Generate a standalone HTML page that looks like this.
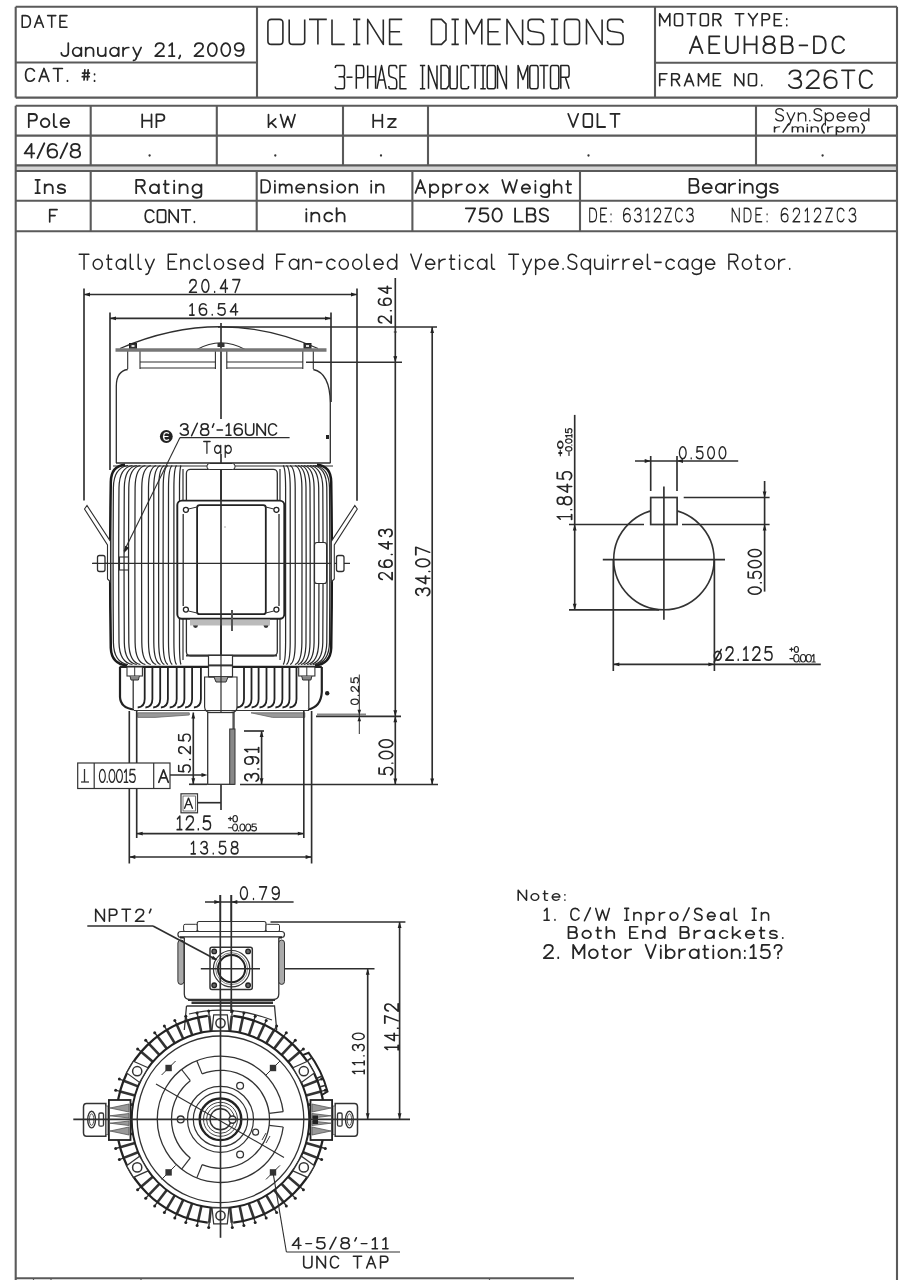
<!DOCTYPE html>
<html><head><meta charset="utf-8"><style>
html,body{margin:0;padding:0;background:#fff;}
svg{display:block;}
text{font-family:"Liberation Sans",sans-serif;stroke:#fff;stroke-width:0.55px;paint-order:normal;}
</style></head><body>
<svg width="908" height="1280" viewBox="0 0 908 1280">
<rect width="908" height="1280" fill="#fff"/>
<line x1="15.7" y1="6.8" x2="897" y2="6.8" stroke="#5a5a5a" stroke-width="2.1"/>
<line x1="15.7" y1="97.6" x2="897" y2="97.6" stroke="#5a5a5a" stroke-width="2.1"/>
<line x1="15.7" y1="6.8" x2="15.7" y2="97.6" stroke="#5a5a5a" stroke-width="2.1"/>
<line x1="897" y1="6.8" x2="897" y2="97.6" stroke="#5a5a5a" stroke-width="2.1"/>
<line x1="257" y1="6.8" x2="257" y2="97.6" stroke="#5a5a5a" stroke-width="2.1"/>
<line x1="655" y1="6.8" x2="655" y2="97.6" stroke="#5a5a5a" stroke-width="2.1"/>
<line x1="15.7" y1="62.5" x2="257" y2="62.5" stroke="#5a5a5a" stroke-width="2.1"/>
<line x1="655" y1="62.8" x2="897" y2="62.8" stroke="#5a5a5a" stroke-width="2.1"/>
<line x1="15.7" y1="105.7" x2="897" y2="105.7" stroke="#5a5a5a" stroke-width="2.1"/>
<line x1="15.7" y1="135.6" x2="897" y2="135.6" stroke="#5a5a5a" stroke-width="2.1"/>
<rect x="15.7" y="165.4" width="881.3" height="5.6" rx="0" stroke="#ccc" stroke-width="0" fill="#d4d4d4"/>
<line x1="15.7" y1="165.4" x2="897" y2="165.4" stroke="#5a5a5a" stroke-width="2.1"/>
<line x1="15.7" y1="171" x2="897" y2="171" stroke="#5a5a5a" stroke-width="2.1"/>
<line x1="15.7" y1="200.7" x2="897" y2="200.7" stroke="#5a5a5a" stroke-width="2.1"/>
<line x1="15.7" y1="231.2" x2="897" y2="231.2" stroke="#5a5a5a" stroke-width="2.1"/>
<line x1="90.7" y1="105.7" x2="90.7" y2="165.4" stroke="#5a5a5a" stroke-width="2.1"/>
<line x1="216.8" y1="105.7" x2="216.8" y2="165.4" stroke="#5a5a5a" stroke-width="2.1"/>
<line x1="343" y1="105.7" x2="343" y2="165.4" stroke="#5a5a5a" stroke-width="2.1"/>
<line x1="428" y1="105.7" x2="428" y2="165.4" stroke="#5a5a5a" stroke-width="2.1"/>
<line x1="756" y1="105.7" x2="756" y2="165.4" stroke="#5a5a5a" stroke-width="2.1"/>
<line x1="90.7" y1="171" x2="90.7" y2="231.2" stroke="#5a5a5a" stroke-width="2.1"/>
<line x1="256.7" y1="171" x2="256.7" y2="231.2" stroke="#5a5a5a" stroke-width="2.1"/>
<line x1="412.4" y1="171" x2="412.4" y2="231.2" stroke="#5a5a5a" stroke-width="2.1"/>
<line x1="580" y1="171" x2="580" y2="231.2" stroke="#5a5a5a" stroke-width="2.1"/>
<line x1="15.7" y1="105.7" x2="15.7" y2="1280" stroke="#5a5a5a" stroke-width="2.1"/>
<line x1="897" y1="105.7" x2="897" y2="1280" stroke="#5a5a5a" stroke-width="2.1"/>
<line x1="15.7" y1="1278.2" x2="574" y2="1278.2" stroke="#5a5a5a" stroke-width="2.1"/>
<line x1="33.5" y1="1278.2" x2="33.5" y2="1280" stroke="#5a5a5a" stroke-width="1.2"/>
<line x1="51" y1="1278.2" x2="51" y2="1280" stroke="#5a5a5a" stroke-width="1.2"/>
<line x1="141" y1="1278.2" x2="141" y2="1280" stroke="#5a5a5a" stroke-width="1.2"/>
<line x1="489.5" y1="1278.2" x2="489.5" y2="1280" stroke="#5a5a5a" stroke-width="1.2"/>
<g transform="translate(22.2,15.6) scale(1.1685)" fill="none" stroke="#262626" stroke-width="1.345" stroke-linecap="round" stroke-linejoin="round"><path transform="translate(0.00,0)" d="M0,0 L0,10 L3,10 Q7,10 7,5 Q7,0 3,0 Z"/><path transform="translate(10.58,0)" d="M0,10 L3.8,0 L7.6,10 M1.4,6.4 L6.2,6.4"/><path transform="translate(21.75,0)" d="M0,0 L7,0 M3.5,0 L3.5,10"/><path transform="translate(32.33,0)" d="M6,0 L0,0 L0,10 L6,10 M0,4.8 L4.4,4.8"/></g>
<g transform="translate(61.3,43.1) scale(1.2934)" fill="none" stroke="#262626" stroke-width="1.345" stroke-linecap="round" stroke-linejoin="round"><path transform="translate(0.00,0)" d="M5.4,0 L5.4,7.2 Q5.4,10 2.7,10 Q0,10 0,7.5"/><path transform="translate(8.79,0)" d="M3.3,3.4 A3.3,3.3 0 1 1 3.3,10 A3.3,3.3 0 1 1 3.3,3.4 Z M6.699999999999999,3.4 L6.699999999999999,10"/><path transform="translate(18.88,0)" d="M0,3.4 L0,10 M0,5.6 Q1,3.4 3.2,3.4 Q6,3.4 6,6.199999999999999 L6,10"/><path transform="translate(28.27,0)" d="M0,3.4 L0,7.2 Q0,10 3,10 Q6,10 6,7.2 M6,3.4 L6,10"/><path transform="translate(37.66,0)" d="M3.3,3.4 A3.3,3.3 0 1 1 3.3,10 A3.3,3.3 0 1 1 3.3,3.4 Z M6.699999999999999,3.4 L6.699999999999999,10"/><path transform="translate(47.75,0)" d="M0,3.4 L0,10 M0,6.199999999999999 Q0.8,3.4 4.4,3.4"/><path transform="translate(55.54,0)" d="M0,3.4 L3.1,10 M6.2,3.4 L3.1,10 L2,12.6 Q1.5,13.4 0.3,13.4"/><path transform="translate(72.52,0)" d="M 0.35,2.60 Q 0.70,0.00 3.50,0.00 Q 6.77,0.00 6.77,2.60 Q 6.77,4.30 4.43,6.00 L 0.00,10.00 L 7.00,10.00"/><path transform="translate(82.91,0)" d="M0.6,2 L2.8,0 L2.8,10 M0.3,10 L4.6,10"/><path transform="translate(90.90,0)" d="M1,9.4 L1,10 L0.1,11.8"/><path transform="translate(102.88,0)" d="M 0.35,2.60 Q 0.70,0.00 3.50,0.00 Q 6.77,0.00 6.77,2.60 Q 6.77,4.30 4.43,6.00 L 0.00,10.00 L 7.00,10.00"/><path transform="translate(113.27,0)" d="M 3.50,0.00 A 3.50,5 0 0 1 3.50,10 A 3.50,5 0 0 1 3.50,0 Z"/><path transform="translate(123.66,0)" d="M 3.50,0.00 A 3.50,5 0 0 1 3.50,10 A 3.50,5 0 0 1 3.50,0 Z"/><path transform="translate(134.05,0)" d="M 6.88,3.80 Q 5.95,6.00 3.50,6.00 Q 0.00,6.00 0.00,3.00 Q 0.00,0.00 3.50,0.00 Q 7.00,0.00 7.00,4.60 Q 7.00,10.00 3.50,10.00 Q 1.40,10.00 0.58,8.80"/></g>
<g transform="translate(25.6,68.5) scale(1.2756)" fill="none" stroke="#262626" stroke-width="1.345" stroke-linecap="round" stroke-linejoin="round"><path transform="translate(0.00,0)" d="M6.9,2 Q5.8,0 3.7,0 Q0,0 0,5 Q0,10 3.7,10 Q5.8,10 6.9,8"/><path transform="translate(10.61,0)" d="M0,10 L3.8,0 L7.6,10 M1.4,6.4 L6.2,6.4"/><path transform="translate(21.82,0)" d="M0,0 L7,0 M3.5,0 L3.5,10"/><path transform="translate(32.43,0)" d="M0.4,9.5 L0.4,10"/><path transform="translate(44.44,0)" d="M2,1 L1.4,9 M4.6,1 L4,9 M0.2,3.6 L5.6,3.6 M0,6.4 L5.4,6.4"/><path transform="translate(53.65,0)" d="M0.4,4.3 L0.4,4.8 M0.4,9.5 L0.4,10"/></g>
<path transform="translate(267.9,19.4)" d="M0,3.5 L0,21.5 Q0,25 3.5,25 L11.5,25 Q15,25 15,21.5 L15,3.5 Q15,0 11.5,0 L3.5,0 Q0,0 0,3.5 Z" fill="none" stroke="#2a2a2a" stroke-width="1.6" stroke-linejoin="round"/>
<path transform="translate(289.2,19.4)" d="M0,0 L0,21.5 Q0,25 3.5,25 L12,25 Q15.5,25 15.5,21.5 L15.5,0" fill="none" stroke="#2a2a2a" stroke-width="1.6" stroke-linejoin="round"/>
<path transform="translate(309,19.4)" d="M0,0 L17.8,0 M8.9,0 L8.9,25" fill="none" stroke="#2a2a2a" stroke-width="1.6" stroke-linejoin="round"/>
<path transform="translate(332,19.4)" d="M0,0 L0,25 L12.7,25" fill="none" stroke="#2a2a2a" stroke-width="1.6" stroke-linejoin="round"/>
<path transform="translate(353,19.4)" d="M0,0 L7.3,0 M3.65,0 L3.65,25 M0,25 L7.3,25" fill="none" stroke="#2a2a2a" stroke-width="1.6" stroke-linejoin="round"/>
<path transform="translate(367.7,19.4)" d="M0,25 L0,0 L15.6,25 L15.6,0" fill="none" stroke="#2a2a2a" stroke-width="1.6" stroke-linejoin="round"/>
<path transform="translate(389.6,19.4)" d="M12.6,0 L0,0 L0,25 L12.6,25 M0,12.3 L10.5,12.3" fill="none" stroke="#2a2a2a" stroke-width="1.6" stroke-linejoin="round"/>
<path transform="translate(431.5,19.4)" d="M0,0 L0,25 L10,25 L14.5,20.5 L14.5,4.5 L10,0 Z" fill="none" stroke="#2a2a2a" stroke-width="1.6" stroke-linejoin="round"/>
<path transform="translate(451.5,19.4)" d="M0,0 L7.3,0 M3.65,0 L3.65,25 M0,25 L7.3,25" fill="none" stroke="#2a2a2a" stroke-width="1.6" stroke-linejoin="round"/>
<path transform="translate(466.2,19.4)" d="M0,25 L0,0 L7.8,14.5 L15.6,0 L15.6,25" fill="none" stroke="#2a2a2a" stroke-width="1.6" stroke-linejoin="round"/>
<path transform="translate(488.1,19.4)" d="M12.6,0 L0,0 L0,25 L12.6,25 M0,12.3 L10.5,12.3" fill="none" stroke="#2a2a2a" stroke-width="1.6" stroke-linejoin="round"/>
<path transform="translate(507,19.4)" d="M0,25 L0,0 L15.6,25 L15.6,0" fill="none" stroke="#2a2a2a" stroke-width="1.6" stroke-linejoin="round"/>
<path transform="translate(527.9,19.4)" d="M15.7,3.5 Q15.2,0 12,0 L3.7,0 Q0.2,0 0.2,3.5 L0.2,8 Q0.2,11 3.5,11.8 L12.5,13.3 Q15.7,14 15.7,17.5 L15.7,21.5 Q15.7,25 12,25 L3.7,25 Q0,25 0,21.5" fill="none" stroke="#2a2a2a" stroke-width="1.6" stroke-linejoin="round"/>
<path transform="translate(550.9,19.4)" d="M0,0 L7.3,0 M3.65,0 L3.65,25 M0,25 L7.3,25" fill="none" stroke="#2a2a2a" stroke-width="1.6" stroke-linejoin="round"/>
<path transform="translate(564.5,19.4)" d="M0,3.5 L0,21.5 Q0,25 3.5,25 L11.5,25 Q15,25 15,21.5 L15,3.5 Q15,0 11.5,0 L3.5,0 Q0,0 0,3.5 Z" fill="none" stroke="#2a2a2a" stroke-width="1.6" stroke-linejoin="round"/>
<path transform="translate(586.5,19.4)" d="M0,25 L0,0 L15.6,25 L15.6,0" fill="none" stroke="#2a2a2a" stroke-width="1.6" stroke-linejoin="round"/>
<path transform="translate(607.4,19.4)" d="M15.7,3.5 Q15.2,0 12,0 L3.7,0 Q0.2,0 0.2,3.5 L0.2,8 Q0.2,11 3.5,11.8 L12.5,13.3 Q15.7,14 15.7,17.5 L15.7,21.5 Q15.7,25 12,25 L3.7,25 Q0,25 0,21.5" fill="none" stroke="#2a2a2a" stroke-width="1.6" stroke-linejoin="round"/>
<path transform="translate(335.3,65.6) scale(9.20,23.20)" d="M0,0.1 Q0,0 0.15,0 L0.85,0 Q1,0 1,0.12 L1,0.38 Q1,0.48 0.8,0.48 L0.35,0.48 M0.8,0.48 Q1,0.48 1,0.6 L1,0.88 Q1,1 0.85,1 L0.15,1 Q0,1 0,0.9" fill="none" stroke="#222" stroke-width="1.5" vector-effect="non-scaling-stroke" stroke-linejoin="round"/>
<path transform="translate(346.5,65.6) scale(6.00,23.20)" d="M0,0.5 L1,0.5" fill="none" stroke="#222" stroke-width="1.5" vector-effect="non-scaling-stroke" stroke-linejoin="round"/>
<path transform="translate(356.3,65.6) scale(7.40,23.20)" d="M0,1 L0,0 L0.8,0 Q1,0 1,0.15 L1,0.4 Q1,0.52 0.8,0.52 L0,0.52" fill="none" stroke="#222" stroke-width="1.5" vector-effect="non-scaling-stroke" stroke-linejoin="round"/>
<path transform="translate(367.7,65.6) scale(7.90,23.20)" d="M0,0 L0,1 M1,0 L1,1 M0,0.48 L1,0.48" fill="none" stroke="#222" stroke-width="1.5" vector-effect="non-scaling-stroke" stroke-linejoin="round"/>
<path transform="translate(376.9,65.6) scale(9.30,23.20)" d="M0,1 L0.5,0 L1,1 M0.2,0.62 L0.8,0.62" fill="none" stroke="#222" stroke-width="1.5" vector-effect="non-scaling-stroke" stroke-linejoin="round"/>
<path transform="translate(388.8,65.6) scale(7.90,23.20)" d="M1,0.12 Q1,0 0.8,0 L0.2,0 Q0,0 0,0.15 L0,0.33 Q0,0.45 0.2,0.48 L0.8,0.55 Q1,0.58 1,0.7 L1,0.87 Q1,1 0.8,1 L0.2,1 Q0,1 0,0.88" fill="none" stroke="#222" stroke-width="1.5" vector-effect="non-scaling-stroke" stroke-linejoin="round"/>
<path transform="translate(400,65.6) scale(6.60,23.20)" d="M1,0 L0,0 L0,1 L1,1 M0,0.48 L0.8,0.48" fill="none" stroke="#222" stroke-width="1.5" vector-effect="non-scaling-stroke" stroke-linejoin="round"/>
<path transform="translate(419.9,65.6) scale(5.30,23.20)" d="M0,0 L1,0 M0.5,0 L0.5,1 M0,1 L1,1" fill="none" stroke="#222" stroke-width="1.5" vector-effect="non-scaling-stroke" stroke-linejoin="round"/>
<path transform="translate(428.5,65.6) scale(8.50,23.20)" d="M0,1 L0,0 L1,1 L1,0" fill="none" stroke="#222" stroke-width="1.5" vector-effect="non-scaling-stroke" stroke-linejoin="round"/>
<path transform="translate(441,65.6) scale(8.00,23.20)" d="M0,0 L0,1 L0.7,1 L1,0.85 L1,0.15 L0.7,0 Z" fill="none" stroke="#222" stroke-width="1.5" vector-effect="non-scaling-stroke" stroke-linejoin="round"/>
<path transform="translate(450,65.6) scale(7.20,23.20)" d="M0,0 L0,0.88 Q0,1 0.2,1 L0.8,1 Q1,1 1,0.88 L1,0" fill="none" stroke="#222" stroke-width="1.5" vector-effect="non-scaling-stroke" stroke-linejoin="round"/>
<path transform="translate(461,65.6) scale(7.60,23.20)" d="M1,0.12 Q1,0 0.8,0 L0.2,0 Q0,0 0,0.12 L0,0.88 Q0,1 0.2,1 L0.8,1 Q1,1 1,0.88" fill="none" stroke="#222" stroke-width="1.5" vector-effect="non-scaling-stroke" stroke-linejoin="round"/>
<path transform="translate(470.6,65.6) scale(9.00,23.20)" d="M0,0 L1,0 M0.5,0 L0.5,1" fill="none" stroke="#222" stroke-width="1.5" vector-effect="non-scaling-stroke" stroke-linejoin="round"/>
<path transform="translate(480.3,65.6) scale(5.50,23.20)" d="M0,0 L1,0 M0.5,0 L0.5,1 M0,1 L1,1" fill="none" stroke="#222" stroke-width="1.5" vector-effect="non-scaling-stroke" stroke-linejoin="round"/>
<path transform="translate(487.2,65.6) scale(8.20,23.20)" d="M0,0.12 L0,0.88 Q0,1 0.2,1 L0.8,1 Q1,1 1,0.88 L1,0.12 Q1,0 0.8,0 L0.2,0 Q0,0 0,0.12 Z" fill="none" stroke="#222" stroke-width="1.5" vector-effect="non-scaling-stroke" stroke-linejoin="round"/>
<path transform="translate(497.5,65.6) scale(8.90,23.20)" d="M0,1 L0,0 L1,1 L1,0" fill="none" stroke="#222" stroke-width="1.5" vector-effect="non-scaling-stroke" stroke-linejoin="round"/>
<path transform="translate(518.1,65.6) scale(9.70,23.20)" d="M0,1 L0,0 L0.5,0.6 L1,0 L1,1" fill="none" stroke="#222" stroke-width="1.5" vector-effect="non-scaling-stroke" stroke-linejoin="round"/>
<path transform="translate(529.8,65.6) scale(8.30,23.20)" d="M0,0.12 L0,0.88 Q0,1 0.2,1 L0.8,1 Q1,1 1,0.88 L1,0.12 Q1,0 0.8,0 L0.2,0 Q0,0 0,0.12 Z" fill="none" stroke="#222" stroke-width="1.5" vector-effect="non-scaling-stroke" stroke-linejoin="round"/>
<path transform="translate(539.5,65.6) scale(8.90,23.20)" d="M0,0 L1,0 M0.5,0 L0.5,1" fill="none" stroke="#222" stroke-width="1.5" vector-effect="non-scaling-stroke" stroke-linejoin="round"/>
<path transform="translate(550.5,65.6) scale(8.30,23.20)" d="M0,0.12 L0,0.88 Q0,1 0.2,1 L0.8,1 Q1,1 1,0.88 L1,0.12 Q1,0 0.8,0 L0.2,0 Q0,0 0,0.12 Z" fill="none" stroke="#222" stroke-width="1.5" vector-effect="non-scaling-stroke" stroke-linejoin="round"/>
<path transform="translate(560.8,65.6) scale(8.30,23.20)" d="M0,1 L0,0 L0.8,0 Q1,0 1,0.15 L1,0.38 Q1,0.5 0.8,0.5 L0,0.5 M0.55,0.5 L1,1" fill="none" stroke="#222" stroke-width="1.5" vector-effect="non-scaling-stroke" stroke-linejoin="round"/>
<g transform="translate(659.7,13.7) scale(1.2042)" fill="none" stroke="#262626" stroke-width="1.345" stroke-linecap="round" stroke-linejoin="round"><path transform="translate(0.00,0)" d="M0,10 L0,0 L4.2,7 L8.4,0 L8.4,10"/><path transform="translate(12.33,0)" d="M1.6,0 L5,0 Q6.6,0 6.6,1.6 L6.6,8.4 Q6.6,10 5,10 L1.6,10 Q0,10 0,8.4 L0,1.6 Q0,0 1.6,0 Z"/><path transform="translate(22.86,0)" d="M0,0 L7,0 M3.5,0 L3.5,10"/><path transform="translate(33.79,0)" d="M1.6,0 L5,0 Q6.6,0 6.6,1.6 L6.6,8.4 Q6.6,10 5,10 L1.6,10 Q0,10 0,8.4 L0,1.6 Q0,0 1.6,0 Z"/><path transform="translate(44.33,0)" d="M0,10 L0,0 L3.9,0 Q6.4,0 6.4,2.4 Q6.4,4.8 3.9,4.8 L0,4.8 M3.4,4.8 L6.6,10"/><path transform="translate(62.79,0)" d="M0,0 L7,0 M3.5,0 L3.5,10"/><path transform="translate(73.72,0)" d="M0,0 L3.7,5 L7.4,0 M3.7,5 L3.7,10"/><path transform="translate(85.05,0)" d="M0,10 L0,0 L3.7,0 Q6.2,0 6.2,2.5 Q6.2,5 3.7,5 L0,5"/><path transform="translate(95.18,0)" d="M6,0 L0,0 L0,10 L6,10 M0,4.8 L4.4,4.8"/><path transform="translate(105.11,0)" d="M0.4,4.3 L0.4,4.8 M0.4,9.5 L0.4,10"/></g>
<g transform="translate(689.8,36.4) scale(1.6780)" fill="none" stroke="#262626" stroke-width="1.073" stroke-linecap="round" stroke-linejoin="round"><path transform="translate(0.00,0)" d="M0,10 L3.8,0 L7.6,10 M1.4,6.4 L6.2,6.4"/><path transform="translate(11.60,0)" d="M6,0 L0,0 L0,10 L6,10 M0,4.8 L4.4,4.8"/><path transform="translate(21.60,0)" d="M0,0 L0,7 Q0,10 3.5,10 Q7,10 7,7 L7,0"/><path transform="translate(32.60,0)" d="M0,0 L0,10 M7.2,0 L7.2,10 M0,4.8 L7.2,4.8"/><path transform="translate(43.80,0)" d="M 3.50,4.60 Q 0.47,4.60 0.47,2.30 Q 0.47,0.00 3.50,0.00 Q 6.53,0.00 6.53,2.30 Q 6.53,4.60 3.50,4.60 Q 0.00,4.60 0.00,7.30 Q 0.00,10.00 3.50,10.00 Q 7.00,10.00 7.00,7.30 Q 7.00,4.60 3.50,4.60 Z"/><path transform="translate(54.80,0)" d="M0,10 L0,0 L4,0 Q6.2,0 6.2,2.35 Q6.2,4.7 4,4.7 L0,4.7 M4,4.7 Q6.6,4.7 6.6,7.35 Q6.6,10 4,10 L0,10"/><path transform="translate(65.40,0)" d="M0,5.4 L4.6,5.4"/><path transform="translate(74.00,0)" d="M0,0 L0,10 L3,10 Q7,10 7,5 Q7,0 3,0 Z"/><path transform="translate(85.00,0)" d="M6.9,2 Q5.8,0 3.7,0 Q0,0 0,5 Q0,10 3.7,10 Q5.8,10 6.9,8"/></g>
<g transform="translate(659.7,73.7) scale(1.2042)" fill="none" stroke="#262626" stroke-width="1.345" stroke-linecap="round" stroke-linejoin="round"><path transform="translate(0.00,0)" d="M6,0 L0,0 L0,10 M0,4.8 L4.4,4.8"/><path transform="translate(9.99,0)" d="M0,10 L0,0 L3.9,0 Q6.4,0 6.4,2.4 Q6.4,4.8 3.9,4.8 L0,4.8 M3.4,4.8 L6.6,10"/><path transform="translate(20.59,0)" d="M0,10 L3.8,0 L7.6,10 M1.4,6.4 L6.2,6.4"/><path transform="translate(32.18,0)" d="M0,10 L0,0 L4.2,7 L8.4,0 L8.4,10"/><path transform="translate(44.58,0)" d="M6,0 L0,0 L0,10 L6,10 M0,4.8 L4.4,4.8"/><path transform="translate(62.57,0)" d="M0,10 L0,0 L7.2,10 L7.2,0"/><path transform="translate(73.76,0)" d="M1.6,0 L5,0 Q6.6,0 6.6,1.6 L6.6,8.4 Q6.6,10 5,10 L1.6,10 Q0,10 0,8.4 L0,1.6 Q0,0 1.6,0 Z"/><path transform="translate(84.35,0)" d="M0.4,9.5 L0.4,10"/></g>
<g transform="translate(788.8,70.3) scale(1.7880)" fill="none" stroke="#262626" stroke-width="1.007" stroke-linecap="round" stroke-linejoin="round"><path transform="translate(0.00,0)" d="M 0.35,2.00 Q 1.17,0.00 3.50,0.00 Q 6.53,0.00 6.53,2.40 Q 6.53,4.60 3.03,4.70 Q 7.00,4.80 7.00,7.40 Q 7.00,10.00 3.50,10.00 Q 0.93,10.00 0.00,8.20"/><path transform="translate(9.91,0)" d="M 0.35,2.60 Q 0.70,0.00 3.50,0.00 Q 6.77,0.00 6.77,2.60 Q 6.77,4.30 4.43,6.00 L 0.00,10.00 L 7.00,10.00"/><path transform="translate(19.82,0)" d="M 6.42,1.20 Q 5.60,0.00 3.62,0.00 Q 0.00,0.00 0.00,5.40 Q 0.00,10.00 3.50,10.00 Q 7.00,10.00 7.00,7.00 Q 7.00,4.00 3.50,4.00 Q 1.05,4.00 0.12,6.20"/><path transform="translate(29.72,0)" d="M0,0 L7,0 M3.5,0 L3.5,10"/><path transform="translate(39.63,0)" d="M6.9,2 Q5.8,0 3.7,0 Q0,0 0,5 Q0,10 3.7,10 Q5.8,10 6.9,8"/></g>
<g transform="translate(28.8,114.0) scale(1.3202)" fill="none" stroke="#262626" stroke-width="1.345" stroke-linecap="round" stroke-linejoin="round"><path transform="translate(0.00,0)" d="M0,10 L0,0 L3.7,0 Q6.2,0 6.2,2.5 Q6.2,5 3.7,5 L0,5"/><path transform="translate(9.07,0)" d="M3.3,3.4 A3.3,3.3 0 1 1 3.3,10 A3.3,3.3 0 1 1 3.3,3.4 Z"/><path transform="translate(18.54,0)" d="M0.4,0 L0.4,8.3 Q0.4,10 2.6,10"/><path transform="translate(24.00,0)" d="M0,6.699999999999999 L6.6,6.699999999999999 A3.3,3.3 0 1 0 5.84,8.81"/></g>
<g transform="translate(142.2,114.3) scale(1.2934)" fill="none" stroke="#262626" stroke-width="1.345" stroke-linecap="round" stroke-linejoin="round"><path transform="translate(0.00,0)" d="M0,0 L0,10 M7.2,0 L7.2,10 M0,4.8 L7.2,4.8"/><path transform="translate(10.99,0)" d="M0,10 L0,0 L3.7,0 Q6.2,0 6.2,2.5 Q6.2,5 3.7,5 L0,5"/></g>
<g transform="translate(268.5,114.6) scale(1.2666)" fill="none" stroke="#262626" stroke-width="1.345" stroke-linecap="round" stroke-linejoin="round"><path transform="translate(0.00,0)" d="M0,0 L0,10 M5.6,3.4 L0,8.2 M2.2,6.4 L6,10"/><path transform="translate(9.47,0)" d="M0,0 L2.9,10 L5.75,1.5 L8.6,10 L11.5,0"/></g>
<g transform="translate(373.2,114.6) scale(1.2666)" fill="none" stroke="#262626" stroke-width="1.345" stroke-linecap="round" stroke-linejoin="round"><path transform="translate(0.00,0)" d="M0,0 L0,10 M7.2,0 L7.2,10 M0,4.8 L7.2,4.8"/><path transform="translate(11.69,0)" d="M0,3.4 L6.2,3.4 L0,10 L6.2,10"/></g>
<g transform="translate(568.2,113.8) scale(1.3202)" fill="none" stroke="#262626" stroke-width="1.345" stroke-linecap="round" stroke-linejoin="round"><path transform="translate(0.00,0)" d="M0,0 L3.8,10 L7.6,0"/><path transform="translate(11.58,0)" d="M1.6,0 L5,0 Q6.6,0 6.6,1.6 L6.6,8.4 Q6.6,10 5,10 L1.6,10 Q0,10 0,8.4 L0,1.6 Q0,0 1.6,0 Z"/><path transform="translate(22.16,0)" d="M0,0 L0,10 L5.8,10"/><path transform="translate(31.94,0)" d="M0,0 L7,0 M3.5,0 L3.5,10"/></g>
<g transform="translate(775.6,108.6) scale(1.2330)" fill="none" stroke="#262626" stroke-width="1.054" stroke-linecap="round" stroke-linejoin="round"><path transform="translate(0.00,0)" d="M6.2,1.6 Q5.3,0 3.2,0 Q0.2,0 0.2,2.5 Q0.2,4.3 3.2,5 Q6.4,5.7 6.4,7.6 Q6.4,10 3.2,10 Q1,10 0,8.4"/><path transform="translate(9.31,0)" d="M0,3.4 L3.1,10 M6.2,3.4 L3.1,10 L2,12.6 Q1.5,13.4 0.3,13.4"/><path transform="translate(18.43,0)" d="M0,3.4 L0,10 M0,5.6 Q1,3.4 3.2,3.4 Q6,3.4 6,6.199999999999999 L6,10"/><path transform="translate(27.34,0)" d="M0.4,9.5 L0.4,10"/><path transform="translate(31.06,0)" d="M6.2,1.6 Q5.3,0 3.2,0 Q0.2,0 0.2,2.5 Q0.2,4.3 3.2,5 Q6.4,5.7 6.4,7.6 Q6.4,10 3.2,10 Q1,10 0,8.4"/><path transform="translate(40.37,0)" d="M0,3.4 L0,13.4 M3.3,3.4 A3.3,3.3 0 1 1 3.3,10 A3.3,3.3 0 1 1 3.3,3.4 Z"/><path transform="translate(49.88,0)" d="M0,6.699999999999999 L6.6,6.699999999999999 A3.3,3.3 0 1 0 5.84,8.81"/><path transform="translate(59.40,0)" d="M0,6.699999999999999 L6.6,6.699999999999999 A3.3,3.3 0 1 0 5.84,8.81"/><path transform="translate(68.91,0)" d="M3.3,3.4 A3.3,3.3 0 1 1 3.3,10 A3.3,3.3 0 1 1 3.3,3.4 Z M6.699999999999999,0 L6.699999999999999,10"/></g>
<g transform="translate(774.5,124.0) scale(0.8010)" fill="none" stroke="#262626" stroke-width="1.373" stroke-linecap="round" stroke-linejoin="round"><path transform="translate(0.00,0) scale(1.412,1)" d="M0,3.4 L0,10 M0,6.199999999999999 Q0.8,3.4 4.4,3.4"/><path transform="translate(10.71,0) scale(1.412,1)" d="M0,10.4 L5,-0.4"/><path transform="translate(22.28,0) scale(1.412,1)" d="M0,3.4 L0,10 M0,5.2 Q0.8,3.4 2.5,3.4 Q4.8,3.4 4.8,5.8 L4.8,10 M4.8,5.2 Q5.6,3.4 7.3,3.4 Q9.6,3.4 9.6,5.8 L9.6,10"/><path transform="translate(40.33,0) scale(1.412,1)" d="M0.4,3.4 L0.4,10 M0.4,0.7 L0.4,1.1"/><path transform="translate(45.96,0) scale(1.412,1)" d="M0,3.4 L0,10 M0,5.6 Q1,3.4 3.2,3.4 Q6,3.4 6,6.199999999999999 L6,10"/><path transform="translate(58.94,0) scale(1.412,1)" d="M2.2,-0.6 Q0,2.4 0,5.4 Q0,8.4 2.2,11.4"/><path transform="translate(66.55,0) scale(1.412,1)" d="M0,3.4 L0,10 M0,6.199999999999999 Q0.8,3.4 4.4,3.4"/><path transform="translate(77.26,0) scale(1.412,1)" d="M0,3.4 L0,13.4 M3.3,3.4 A3.3,3.3 0 1 1 3.3,10 A3.3,3.3 0 1 1 3.3,3.4 Z"/><path transform="translate(91.08,0) scale(1.412,1)" d="M0,3.4 L0,10 M0,5.2 Q0.8,3.4 2.5,3.4 Q4.8,3.4 4.8,5.8 L4.8,10 M4.8,5.2 Q5.6,3.4 7.3,3.4 Q9.6,3.4 9.6,5.8 L9.6,10"/><path transform="translate(109.14,0) scale(1.412,1)" d="M0,-0.6 Q2.2,2.4 2.2,5.4 Q2.2,8.4 0,11.4"/></g>
<g transform="translate(24.6,143.8) scale(1.3780)" fill="none" stroke="#262626" stroke-width="1.306" stroke-linecap="round" stroke-linejoin="round"><path transform="translate(0.00,0)" d="M 5.03,10.00 L 5.03,0.00 L 0.00,7.00 L 7.00,7.00"/><path transform="translate(9.33,0)" d="M0,10.4 L5,-0.4"/><path transform="translate(16.67,0)" d="M 6.42,1.20 Q 5.60,0.00 3.62,0.00 Q 0.00,0.00 0.00,5.40 Q 0.00,10.00 3.50,10.00 Q 7.00,10.00 7.00,7.00 Q 7.00,4.00 3.50,4.00 Q 1.05,4.00 0.12,6.20"/><path transform="translate(26.00,0)" d="M0,10.4 L5,-0.4"/><path transform="translate(33.33,0)" d="M 3.50,4.60 Q 0.47,4.60 0.47,2.30 Q 0.47,0.00 3.50,0.00 Q 6.53,0.00 6.53,2.30 Q 6.53,4.60 3.50,4.60 Q 0.00,4.60 0.00,7.30 Q 0.00,10.00 3.50,10.00 Q 7.00,10.00 7.00,7.30 Q 7.00,4.60 3.50,4.60 Z"/></g>
<circle cx="149.6" cy="155.5" r="1.15" stroke="#333" stroke-width="0" fill="#333"/>
<circle cx="275.3" cy="155.5" r="1.15" stroke="#333" stroke-width="0" fill="#333"/>
<circle cx="381" cy="155.5" r="1.15" stroke="#333" stroke-width="0" fill="#333"/>
<circle cx="588.5" cy="155.5" r="1.15" stroke="#333" stroke-width="0" fill="#333"/>
<circle cx="822.6" cy="155.5" r="1.15" stroke="#333" stroke-width="0" fill="#333"/>
<g transform="translate(35.5,179.8) scale(1.3380)" fill="none" stroke="#262626" stroke-width="1.345" stroke-linecap="round" stroke-linejoin="round"><path transform="translate(0.00,0)" d="M0,0 L3.2,0 M1.6,0 L1.6,10 M0,10 L3.2,10"/><path transform="translate(6.89,0)" d="M0,3.4 L0,10 M0,5.6 Q1,3.4 3.2,3.4 Q6,3.4 6,6.199999999999999 L6,10"/><path transform="translate(16.58,0)" d="M5.4,4.5 Q4.7,3.4 2.8,3.4 Q0.2,3.4 0.2,5.2 Q0.2,6.499999999999999 2.8,6.699999999999999 Q5.6,6.999999999999999 5.6,8.399999999999999 Q5.6,10 2.8,10 Q0.8,10 0,8.9"/></g>
<g transform="translate(136.2,179.8) scale(1.3380)" fill="none" stroke="#262626" stroke-width="1.345" stroke-linecap="round" stroke-linejoin="round"><path transform="translate(0.00,0)" d="M0,10 L0,0 L3.9,0 Q6.4,0 6.4,2.4 Q6.4,4.8 3.9,4.8 L0,4.8 M3.4,4.8 L6.6,10"/><path transform="translate(10.22,0)" d="M3.3,3.4 A3.3,3.3 0 1 1 3.3,10 A3.3,3.3 0 1 1 3.3,3.4 Z M6.699999999999999,3.4 L6.699999999999999,10"/><path transform="translate(20.55,0)" d="M1.2,0.6 L1.2,8.6 Q1.2,10 2.6,10 L3.6,10 M0,3.4 L3.8,3.4"/><path transform="translate(27.97,0)" d="M0.4,3.4 L0.4,10 M0.4,0.7 L0.4,1.1"/><path transform="translate(32.39,0)" d="M0,3.4 L0,10 M0,5.6 Q1,3.4 3.2,3.4 Q6,3.4 6,6.199999999999999 L6,10"/><path transform="translate(42.01,0)" d="M3.3,3.4 A3.3,3.3 0 1 1 3.3,10 A3.3,3.3 0 1 1 3.3,3.4 Z M6.699999999999999,3.4 L6.699999999999999,11.2 Q6.699999999999999,13.4 3.3,13.4 Q1.2,13.4 0.4,12.3"/></g>
<g transform="translate(261.3,180.0) scale(1.2666)" fill="none" stroke="#262626" stroke-width="1.345" stroke-linecap="round" stroke-linejoin="round"><path transform="translate(0.00,0)" d="M0,0 L0,10 L3,10 Q7,10 7,5 Q7,0 3,0 Z"/><path transform="translate(10.34,0)" d="M0.4,3.4 L0.4,10 M0.4,0.7 L0.4,1.1"/><path transform="translate(14.48,0)" d="M0,3.4 L0,10 M0,5.2 Q0.8,3.4 2.5,3.4 Q4.8,3.4 4.8,5.8 L4.8,10 M4.8,5.2 Q5.6,3.4 7.3,3.4 Q9.6,3.4 9.6,5.8 L9.6,10"/><path transform="translate(27.42,0)" d="M0,6.699999999999999 L6.6,6.699999999999999 A3.3,3.3 0 1 0 5.84,8.81"/><path transform="translate(37.36,0)" d="M0,3.4 L0,10 M0,5.6 Q1,3.4 3.2,3.4 Q6,3.4 6,6.199999999999999 L6,10"/><path transform="translate(46.69,0)" d="M5.4,4.5 Q4.7,3.4 2.8,3.4 Q0.2,3.4 0.2,5.2 Q0.2,6.499999999999999 2.8,6.699999999999999 Q5.6,6.999999999999999 5.6,8.399999999999999 Q5.6,10 2.8,10 Q0.8,10 0,8.9"/><path transform="translate(55.63,0)" d="M0.4,3.4 L0.4,10 M0.4,0.7 L0.4,1.1"/><path transform="translate(59.77,0)" d="M3.3,3.4 A3.3,3.3 0 1 1 3.3,10 A3.3,3.3 0 1 1 3.3,3.4 Z"/><path transform="translate(69.71,0)" d="M0,3.4 L0,10 M0,5.6 Q1,3.4 3.2,3.4 Q6,3.4 6,6.199999999999999 L6,10"/><path transform="translate(86.39,0)" d="M0.4,3.4 L0.4,10 M0.4,0.7 L0.4,1.1"/><path transform="translate(90.53,0)" d="M0,3.4 L0,10 M0,5.6 Q1,3.4 3.2,3.4 Q6,3.4 6,6.199999999999999 L6,10"/></g>
<g transform="translate(415.5,180.0) scale(1.2845)" fill="none" stroke="#262626" stroke-width="1.345" stroke-linecap="round" stroke-linejoin="round"><path transform="translate(0.00,0)" d="M0,10 L3.8,0 L7.6,10 M1.4,6.4 L6.2,6.4"/><path transform="translate(11.25,0)" d="M0,3.4 L0,13.4 M3.3,3.4 A3.3,3.3 0 1 1 3.3,10 A3.3,3.3 0 1 1 3.3,3.4 Z"/><path transform="translate(21.50,0)" d="M0,3.4 L0,13.4 M3.3,3.4 A3.3,3.3 0 1 1 3.3,10 A3.3,3.3 0 1 1 3.3,3.4 Z"/><path transform="translate(31.74,0)" d="M0,3.4 L0,10 M0,6.199999999999999 Q0.8,3.4 4.4,3.4"/><path transform="translate(39.79,0)" d="M3.3,3.4 A3.3,3.3 0 1 1 3.3,10 A3.3,3.3 0 1 1 3.3,3.4 Z"/><path transform="translate(50.04,0)" d="M0,3.4 L6.2,10 M6.2,3.4 L0,10"/><path transform="translate(67.53,0)" d="M0,0 L2.9,10 L5.75,1.5 L8.6,10 L11.5,0"/><path transform="translate(82.68,0)" d="M0,6.699999999999999 L6.6,6.699999999999999 A3.3,3.3 0 1 0 5.84,8.81"/><path transform="translate(92.93,0)" d="M0.4,3.4 L0.4,10 M0.4,0.7 L0.4,1.1"/><path transform="translate(97.38,0)" d="M3.3,3.4 A3.3,3.3 0 1 1 3.3,10 A3.3,3.3 0 1 1 3.3,3.4 Z M6.699999999999999,3.4 L6.699999999999999,11.2 Q6.699999999999999,13.4 3.3,13.4 Q1.2,13.4 0.4,12.3"/><path transform="translate(107.73,0)" d="M0,0 L0,10 M0,5.6 Q1,3.4 3.2,3.4 Q6,3.4 6,6.199999999999999 L6,10"/><path transform="translate(117.37,0)" d="M1.2,0.6 L1.2,8.6 Q1.2,10 2.6,10 L3.6,10 M0,3.4 L3.8,3.4"/></g>
<g transform="translate(689.5,178.9) scale(1.3880)" fill="none" stroke="#262626" stroke-width="1.297" stroke-linecap="round" stroke-linejoin="round"><path transform="translate(0.00,0)" d="M0,10 L0,0 L4,0 Q6.2,0 6.2,2.35 Q6.2,4.7 4,4.7 L0,4.7 M4,4.7 Q6.6,4.7 6.6,7.35 Q6.6,10 4,10 L0,10"/><path transform="translate(9.49,0)" d="M0,6.699999999999999 L6.6,6.699999999999999 A3.3,3.3 0 1 0 5.84,8.81"/><path transform="translate(18.97,0)" d="M3.3,3.4 A3.3,3.3 0 1 1 3.3,10 A3.3,3.3 0 1 1 3.3,3.4 Z M6.699999999999999,3.4 L6.699999999999999,10"/><path transform="translate(28.56,0)" d="M0,3.4 L0,10 M0,6.199999999999999 Q0.8,3.4 4.4,3.4"/><path transform="translate(35.84,0)" d="M0.4,3.4 L0.4,10 M0.4,0.7 L0.4,1.1"/><path transform="translate(39.53,0)" d="M0,3.4 L0,10 M0,5.6 Q1,3.4 3.2,3.4 Q6,3.4 6,6.199999999999999 L6,10"/><path transform="translate(48.42,0)" d="M3.3,3.4 A3.3,3.3 0 1 1 3.3,10 A3.3,3.3 0 1 1 3.3,3.4 Z M6.699999999999999,3.4 L6.699999999999999,11.2 Q6.699999999999999,13.4 3.3,13.4 Q1.2,13.4 0.4,12.3"/><path transform="translate(58.00,0)" d="M5.4,4.5 Q4.7,3.4 2.8,3.4 Q0.2,3.4 0.2,5.2 Q0.2,6.499999999999999 2.8,6.699999999999999 Q5.6,6.999999999999999 5.6,8.399999999999999 Q5.6,10 2.8,10 Q0.8,10 0,8.9"/></g>
<g transform="translate(49.7,209.7) scale(1.2310)" fill="none" stroke="#262626" stroke-width="1.345" stroke-linecap="round" stroke-linejoin="round"><path transform="translate(0.00,0)" d="M6,0 L0,0 L0,10 M0,4.8 L4.4,4.8"/></g>
<g transform="translate(145.2,209.8) scale(1.2488)" fill="none" stroke="#262626" stroke-width="1.345" stroke-linecap="round" stroke-linejoin="round"><path transform="translate(0.00,0)" d="M6.9,2 Q5.8,0 3.7,0 Q0,0 0,5 Q0,10 3.7,10 Q5.8,10 6.9,8"/><path transform="translate(9.80,0)" d="M1.6,0 L5,0 Q6.6,0 6.6,1.6 L6.6,8.4 Q6.6,10 5,10 L1.6,10 Q0,10 0,8.4 L0,1.6 Q0,0 1.6,0 Z"/><path transform="translate(19.19,0)" d="M0,10 L0,0 L7.2,10 L7.2,0"/><path transform="translate(29.19,0)" d="M0,0 L7,0 M3.5,0 L3.5,10"/><path transform="translate(38.99,0)" d="M0.4,9.5 L0.4,10"/></g>
<g transform="translate(305.8,208.1) scale(1.3291)" fill="none" stroke="#262626" stroke-width="1.345" stroke-linecap="round" stroke-linejoin="round"><path transform="translate(0.00,0)" d="M0.4,3.4 L0.4,10 M0.4,0.7 L0.4,1.1"/><path transform="translate(4.16,0)" d="M0,3.4 L0,10 M0,5.6 Q1,3.4 3.2,3.4 Q6,3.4 6,6.199999999999999 L6,10"/><path transform="translate(13.52,0)" d="M6.3,4.7 A3.3,3.3 0 1 0 6.3,8.7"/><path transform="translate(23.19,0)" d="M0,0 L0,10 M0,5.6 Q1,3.4 3.2,3.4 Q6,3.4 6,6.199999999999999 L6,10"/></g>
<g transform="translate(465.8,208.3) scale(1.3380)" fill="none" stroke="#262626" stroke-width="1.345" stroke-linecap="round" stroke-linejoin="round"><path transform="translate(0.00,0)" d="M 0.00,0.00 L 7.00,0.00 L 2.33,10.00"/><path transform="translate(9.96,0)" d="M 6.53,0.00 L 1.05,0.00 L 0.58,4.40 Q 1.87,3.60 3.50,3.60 Q 7.00,3.60 7.00,6.80 Q 7.00,10.00 3.50,10.00 Q 1.17,10.00 0.12,8.50"/><path transform="translate(19.92,0)" d="M 3.50,0.00 A 3.50,5 0 0 1 3.50,10 A 3.50,5 0 0 1 3.50,0 Z"/><path transform="translate(36.85,0)" d="M0,0 L0,10 L5.8,10"/><path transform="translate(45.61,0)" d="M0,10 L0,0 L4,0 Q6.2,0 6.2,2.35 Q6.2,4.7 4,4.7 L0,4.7 M4,4.7 Q6.6,4.7 6.6,7.35 Q6.6,10 4,10 L0,10"/><path transform="translate(55.17,0)" d="M6.2,1.6 Q5.3,0 3.2,0 Q0.2,0 0.2,2.5 Q0.2,4.3 3.2,5 Q6.4,5.7 6.4,7.6 Q6.4,10 3.2,10 Q1,10 0,8.4"/></g>
<g transform="translate(589.7,208.2) scale(1.3650)" fill="none" stroke="#262626" stroke-width="1.099" stroke-linecap="round" stroke-linejoin="round"><path transform="translate(0.00,0) scale(0.720,1)" d="M0,0 L0,10 L3,10 Q7,10 7,5 Q7,0 3,0 Z"/><path transform="translate(8.03,0) scale(0.720,1)" d="M6,0 L0,0 L0,10 L6,10 M0,4.8 L4.4,4.8"/><path transform="translate(15.33,0) scale(0.720,1)" d="M0.4,4.3 L0.4,4.8 M0.4,9.5 L0.4,10"/><path transform="translate(24.76,0) scale(0.720,1)" d="M 6.42,1.20 Q 5.60,0.00 3.62,0.00 Q 0.00,0.00 0.00,5.40 Q 0.00,10.00 3.50,10.00 Q 7.00,10.00 7.00,7.00 Q 7.00,4.00 3.50,4.00 Q 1.05,4.00 0.12,6.20"/><path transform="translate(32.78,0) scale(0.720,1)" d="M 0.35,2.00 Q 1.17,0.00 3.50,0.00 Q 6.53,0.00 6.53,2.40 Q 6.53,4.60 3.03,4.70 Q 7.00,4.80 7.00,7.40 Q 7.00,10.00 3.50,10.00 Q 0.93,10.00 0.00,8.20"/><path transform="translate(40.81,0) scale(0.720,1)" d="M0.6,2 L2.8,0 L2.8,10 M0.3,10 L4.6,10"/><path transform="translate(47.11,0) scale(0.720,1)" d="M 0.35,2.60 Q 0.70,0.00 3.50,0.00 Q 6.77,0.00 6.77,2.60 Q 6.77,4.30 4.43,6.00 L 0.00,10.00 L 7.00,10.00"/><path transform="translate(55.13,0) scale(0.720,1)" d="M0,0 L6.6,0 L0,10 L6.6,10"/><path transform="translate(62.87,0) scale(0.720,1)" d="M6.9,2 Q5.8,0 3.7,0 Q0,0 0,5 Q0,10 3.7,10 Q5.8,10 6.9,8"/><path transform="translate(70.89,0) scale(0.720,1)" d="M 0.35,2.00 Q 1.17,0.00 3.50,0.00 Q 6.53,0.00 6.53,2.40 Q 6.53,4.60 3.03,4.70 Q 7.00,4.80 7.00,7.40 Q 7.00,10.00 3.50,10.00 Q 0.93,10.00 0.00,8.20"/></g>
<g transform="translate(732.2,208.2) scale(1.3650)" fill="none" stroke="#262626" stroke-width="1.099" stroke-linecap="round" stroke-linejoin="round"><path transform="translate(0.00,0) scale(0.720,1)" d="M0,10 L0,0 L7.2,10 L7.2,0"/><path transform="translate(8.76,0) scale(0.720,1)" d="M0,0 L0,10 L3,10 Q7,10 7,5 Q7,0 3,0 Z"/><path transform="translate(17.37,0) scale(0.720,1)" d="M6,0 L0,0 L0,10 L6,10 M0,4.8 L4.4,4.8"/><path transform="translate(25.27,0) scale(0.720,1)" d="M0.4,4.3 L0.4,4.8 M0.4,9.5 L0.4,10"/><path transform="translate(35.87,0) scale(0.720,1)" d="M 6.42,1.20 Q 5.60,0.00 3.62,0.00 Q 0.00,0.00 0.00,5.40 Q 0.00,10.00 3.50,10.00 Q 7.00,10.00 7.00,7.00 Q 7.00,4.00 3.50,4.00 Q 1.05,4.00 0.12,6.20"/><path transform="translate(44.49,0) scale(0.720,1)" d="M 0.35,2.60 Q 0.70,0.00 3.50,0.00 Q 6.77,0.00 6.77,2.60 Q 6.77,4.30 4.43,6.00 L 0.00,10.00 L 7.00,10.00"/><path transform="translate(53.10,0) scale(0.720,1)" d="M0.6,2 L2.8,0 L2.8,10 M0.3,10 L4.6,10"/><path transform="translate(59.99,0) scale(0.720,1)" d="M 0.35,2.60 Q 0.70,0.00 3.50,0.00 Q 6.77,0.00 6.77,2.60 Q 6.77,4.30 4.43,6.00 L 0.00,10.00 L 7.00,10.00"/><path transform="translate(68.60,0) scale(0.720,1)" d="M0,0 L6.6,0 L0,10 L6.6,10"/><path transform="translate(76.93,0) scale(0.720,1)" d="M6.9,2 Q5.8,0 3.7,0 Q0,0 0,5 Q0,10 3.7,10 Q5.8,10 6.9,8"/><path transform="translate(85.55,0) scale(0.720,1)" d="M 0.35,2.00 Q 1.17,0.00 3.50,0.00 Q 6.53,0.00 6.53,2.40 Q 6.53,4.60 3.03,4.70 Q 7.00,4.80 7.00,7.40 Q 7.00,10.00 3.50,10.00 Q 0.93,10.00 0.00,8.20"/></g>
<g transform="translate(79.2,254.2) scale(1.5060)" fill="none" stroke="#262626" stroke-width="1.062" stroke-linecap="round" stroke-linejoin="round"><path transform="translate(0.00,0) scale(0.920,1)" d="M0,0 L7,0 M3.5,0 L3.5,10"/><path transform="translate(9.29,0) scale(0.920,1)" d="M3.3,3.4 A3.3,3.3 0 1 1 3.3,10 A3.3,3.3 0 1 1 3.3,3.4 Z"/><path transform="translate(18.21,0) scale(0.920,1)" d="M1.2,0.6 L1.2,8.6 Q1.2,10 2.6,10 L3.6,10 M0,3.4 L3.8,3.4"/><path transform="translate(24.56,0) scale(0.920,1)" d="M3.3,3.4 A3.3,3.3 0 1 1 3.3,10 A3.3,3.3 0 1 1 3.3,3.4 Z M6.699999999999999,3.4 L6.699999999999999,10"/><path transform="translate(33.57,0) scale(0.920,1)" d="M0.4,0 L0.4,8.3 Q0.4,10 2.6,10"/><path transform="translate(38.82,0) scale(0.920,1)" d="M0.4,0 L0.4,8.3 Q0.4,10 2.6,10"/><path transform="translate(44.06,0) scale(0.920,1)" d="M0,3.4 L3.1,10 M6.2,3.4 L3.1,10 L2,12.6 Q1.5,13.4 0.3,13.4"/><path transform="translate(59.14,0) scale(0.920,1)" d="M6,0 L0,0 L0,10 L6,10 M0,4.8 L4.4,4.8"/><path transform="translate(67.52,0) scale(0.920,1)" d="M0,3.4 L0,10 M0,5.6 Q1,3.4 3.2,3.4 Q6,3.4 6,6.199999999999999 L6,10"/><path transform="translate(75.89,0) scale(0.920,1)" d="M6.3,4.7 A3.3,3.3 0 1 0 6.3,8.7"/><path transform="translate(84.53,0) scale(0.920,1)" d="M0.4,0 L0.4,8.3 Q0.4,10 2.6,10"/><path transform="translate(89.78,0) scale(0.920,1)" d="M3.3,3.4 A3.3,3.3 0 1 1 3.3,10 A3.3,3.3 0 1 1 3.3,3.4 Z"/><path transform="translate(98.70,0) scale(0.920,1)" d="M5.4,4.5 Q4.7,3.4 2.8,3.4 Q0.2,3.4 0.2,5.2 Q0.2,6.499999999999999 2.8,6.699999999999999 Q5.6,6.999999999999999 5.6,8.399999999999999 Q5.6,10 2.8,10 Q0.8,10 0,8.9"/><path transform="translate(106.70,0) scale(0.920,1)" d="M0,6.699999999999999 L6.6,6.699999999999999 A3.3,3.3 0 1 0 5.84,8.81"/><path transform="translate(115.62,0) scale(0.920,1)" d="M3.3,3.4 A3.3,3.3 0 1 1 3.3,10 A3.3,3.3 0 1 1 3.3,3.4 Z M6.699999999999999,0 L6.699999999999999,10"/><path transform="translate(131.17,0) scale(0.920,1)" d="M6,0 L0,0 L0,10 M0,4.8 L4.4,4.8"/><path transform="translate(139.54,0) scale(0.920,1)" d="M3.3,3.4 A3.3,3.3 0 1 1 3.3,10 A3.3,3.3 0 1 1 3.3,3.4 Z M6.699999999999999,3.4 L6.699999999999999,10"/><path transform="translate(148.55,0) scale(0.920,1)" d="M0,3.4 L0,10 M0,5.6 Q1,3.4 3.2,3.4 Q6,3.4 6,6.199999999999999 L6,10"/><path transform="translate(156.92,0) scale(0.920,1)" d="M0,5.4 L4.6,5.4"/><path transform="translate(164.01,0) scale(0.920,1)" d="M6.3,4.7 A3.3,3.3 0 1 0 6.3,8.7"/><path transform="translate(172.65,0) scale(0.920,1)" d="M3.3,3.4 A3.3,3.3 0 1 1 3.3,10 A3.3,3.3 0 1 1 3.3,3.4 Z"/><path transform="translate(181.58,0) scale(0.920,1)" d="M3.3,3.4 A3.3,3.3 0 1 1 3.3,10 A3.3,3.3 0 1 1 3.3,3.4 Z"/><path transform="translate(190.50,0) scale(0.920,1)" d="M0.4,0 L0.4,8.3 Q0.4,10 2.6,10"/><path transform="translate(195.74,0) scale(0.920,1)" d="M0,6.699999999999999 L6.6,6.699999999999999 A3.3,3.3 0 1 0 5.84,8.81"/><path transform="translate(204.66,0) scale(0.920,1)" d="M3.3,3.4 A3.3,3.3 0 1 1 3.3,10 A3.3,3.3 0 1 1 3.3,3.4 Z M6.699999999999999,0 L6.699999999999999,10"/><path transform="translate(220.21,0) scale(0.920,1)" d="M0,0 L3.8,10 L7.6,0"/><path transform="translate(230.05,0) scale(0.920,1)" d="M0,6.699999999999999 L6.6,6.699999999999999 A3.3,3.3 0 1 0 5.84,8.81"/><path transform="translate(238.97,0) scale(0.920,1)" d="M0,3.4 L0,10 M0,6.199999999999999 Q0.8,3.4 4.4,3.4"/><path transform="translate(245.87,0) scale(0.920,1)" d="M1.2,0.6 L1.2,8.6 Q1.2,10 2.6,10 L3.6,10 M0,3.4 L3.8,3.4"/><path transform="translate(252.22,0) scale(0.920,1)" d="M0.4,3.4 L0.4,10 M0.4,0.7 L0.4,1.1"/><path transform="translate(255.81,0) scale(0.920,1)" d="M6.3,4.7 A3.3,3.3 0 1 0 6.3,8.7"/><path transform="translate(264.45,0) scale(0.920,1)" d="M3.3,3.4 A3.3,3.3 0 1 1 3.3,10 A3.3,3.3 0 1 1 3.3,3.4 Z M6.699999999999999,3.4 L6.699999999999999,10"/><path transform="translate(273.47,0) scale(0.920,1)" d="M0.4,0 L0.4,8.3 Q0.4,10 2.6,10"/><path transform="translate(285.24,0) scale(0.920,1)" d="M0,0 L7,0 M3.5,0 L3.5,10"/><path transform="translate(294.53,0) scale(0.920,1)" d="M0,3.4 L3.1,10 M6.2,3.4 L3.1,10 L2,12.6 Q1.5,13.4 0.3,13.4"/><path transform="translate(303.09,0) scale(0.920,1)" d="M0,3.4 L0,13.4 M3.3,3.4 A3.3,3.3 0 1 1 3.3,10 A3.3,3.3 0 1 1 3.3,3.4 Z"/><path transform="translate(312.01,0) scale(0.920,1)" d="M0,6.699999999999999 L6.6,6.699999999999999 A3.3,3.3 0 1 0 5.84,8.81"/><path transform="translate(320.93,0) scale(0.920,1)" d="M0.4,9.5 L0.4,10"/><path transform="translate(324.52,0) scale(0.920,1)" d="M6.2,1.6 Q5.3,0 3.2,0 Q0.2,0 0.2,2.5 Q0.2,4.3 3.2,5 Q6.4,5.7 6.4,7.6 Q6.4,10 3.2,10 Q1,10 0,8.4"/><path transform="translate(333.26,0) scale(0.920,1)" d="M3.3,3.4 A3.3,3.3 0 1 1 3.3,10 A3.3,3.3 0 1 1 3.3,3.4 Z M6.699999999999999,3.4 L6.699999999999999,13.4"/><path transform="translate(342.27,0) scale(0.920,1)" d="M0,3.4 L0,7.2 Q0,10 3,10 Q6,10 6,7.2 M6,3.4 L6,10"/><path transform="translate(350.64,0) scale(0.920,1)" d="M0.4,3.4 L0.4,10 M0.4,0.7 L0.4,1.1"/><path transform="translate(354.23,0) scale(0.920,1)" d="M0,3.4 L0,10 M0,6.199999999999999 Q0.8,3.4 4.4,3.4"/><path transform="translate(361.13,0) scale(0.920,1)" d="M0,3.4 L0,10 M0,6.199999999999999 Q0.8,3.4 4.4,3.4"/><path transform="translate(368.03,0) scale(0.920,1)" d="M0,6.699999999999999 L6.6,6.699999999999999 A3.3,3.3 0 1 0 5.84,8.81"/><path transform="translate(376.95,0) scale(0.920,1)" d="M0.4,0 L0.4,8.3 Q0.4,10 2.6,10"/><path transform="translate(382.19,0) scale(0.920,1)" d="M0,5.4 L4.6,5.4"/><path transform="translate(389.27,0) scale(0.920,1)" d="M6.3,4.7 A3.3,3.3 0 1 0 6.3,8.7"/><path transform="translate(397.92,0) scale(0.920,1)" d="M3.3,3.4 A3.3,3.3 0 1 1 3.3,10 A3.3,3.3 0 1 1 3.3,3.4 Z M6.699999999999999,3.4 L6.699999999999999,10"/><path transform="translate(406.93,0) scale(0.920,1)" d="M3.3,3.4 A3.3,3.3 0 1 1 3.3,10 A3.3,3.3 0 1 1 3.3,3.4 Z M6.699999999999999,3.4 L6.699999999999999,11.2 Q6.699999999999999,13.4 3.3,13.4 Q1.2,13.4 0.4,12.3"/><path transform="translate(415.95,0) scale(0.920,1)" d="M0,6.699999999999999 L6.6,6.699999999999999 A3.3,3.3 0 1 0 5.84,8.81"/><path transform="translate(431.40,0) scale(0.920,1)" d="M0,10 L0,0 L3.9,0 Q6.4,0 6.4,2.4 Q6.4,4.8 3.9,4.8 L0,4.8 M3.4,4.8 L6.6,10"/><path transform="translate(440.32,0) scale(0.920,1)" d="M3.3,3.4 A3.3,3.3 0 1 1 3.3,10 A3.3,3.3 0 1 1 3.3,3.4 Z"/><path transform="translate(449.25,0) scale(0.920,1)" d="M1.2,0.6 L1.2,8.6 Q1.2,10 2.6,10 L3.6,10 M0,3.4 L3.8,3.4"/><path transform="translate(455.59,0) scale(0.920,1)" d="M3.3,3.4 A3.3,3.3 0 1 1 3.3,10 A3.3,3.3 0 1 1 3.3,3.4 Z"/><path transform="translate(464.52,0) scale(0.920,1)" d="M0,3.4 L0,10 M0,6.199999999999999 Q0.8,3.4 4.4,3.4"/><path transform="translate(471.42,0) scale(0.920,1)" d="M0.4,9.5 L0.4,10"/></g>
<line x1="84" y1="288.6" x2="84" y2="500.6" stroke="#2e2e2e" stroke-width="1.65"/>
<line x1="357" y1="288.6" x2="357" y2="500.7" stroke="#2e2e2e" stroke-width="1.65"/>
<line x1="84" y1="294.5" x2="357" y2="294.5" stroke="#2e2e2e" stroke-width="1.65"/>
<path d="M84.0,294.5 L90.0,292.6 L90.0,296.4 Z" fill="#222"/>
<path d="M357.0,294.5 L351.0,296.4 L351.0,292.6 Z" fill="#222"/>
<line x1="110" y1="312.4" x2="110" y2="470" stroke="#2e2e2e" stroke-width="1.65"/>
<line x1="331" y1="312.4" x2="331" y2="402" stroke="#2e2e2e" stroke-width="1.65"/>
<line x1="110" y1="318.3" x2="331" y2="318.3" stroke="#2e2e2e" stroke-width="1.65"/>
<path d="M110.0,318.3 L116.0,316.4 L116.0,320.2 Z" fill="#222"/>
<path d="M331.0,318.3 L325.0,320.2 L325.0,316.4 Z" fill="#222"/>
<g transform="translate(189.4,279.6) scale(1.2666)" fill="none" stroke="#262626" stroke-width="1.345" stroke-linecap="round" stroke-linejoin="round"><path transform="translate(0.00,0) scale(0.800,1)" d="M 0.35,2.60 Q 0.70,0.00 3.50,0.00 Q 6.77,0.00 6.77,2.60 Q 6.77,4.30 4.43,6.00 L 0.00,10.00 L 7.00,10.00"/><path transform="translate(9.80,0) scale(0.800,1)" d="M 3.50,0.00 A 3.50,5 0 0 1 3.50,10 A 3.50,5 0 0 1 3.50,0 Z"/><path transform="translate(19.60,0) scale(0.800,1)" d="M0.4,9.5 L0.4,10"/><path transform="translate(24.44,0) scale(0.800,1)" d="M 5.03,10.00 L 5.03,0.00 L 0.00,7.00 L 7.00,7.00"/><path transform="translate(34.24,0) scale(0.800,1)" d="M 0.00,0.00 L 7.00,0.00 L 2.33,10.00"/></g>
<g transform="translate(189.3,303.7) scale(1.1418)" fill="none" stroke="#262626" stroke-width="1.345" stroke-linecap="round" stroke-linejoin="round"><path transform="translate(0.00,0) scale(0.924,1)" d="M0.6,2 L2.8,0 L2.8,10 M0.3,10 L4.6,10"/><path transform="translate(8.75,0) scale(0.924,1)" d="M 6.42,1.20 Q 5.60,0.00 3.62,0.00 Q 0.00,0.00 0.00,5.40 Q 0.00,10.00 3.50,10.00 Q 7.00,10.00 7.00,7.00 Q 7.00,4.00 3.50,4.00 Q 1.05,4.00 0.12,6.20"/><path transform="translate(19.72,0) scale(0.924,1)" d="M0.4,9.5 L0.4,10"/><path transform="translate(24.96,0) scale(0.924,1)" d="M 6.53,0.00 L 1.05,0.00 L 0.58,4.40 Q 1.87,3.60 3.50,3.60 Q 7.00,3.60 7.00,6.80 Q 7.00,10.00 3.50,10.00 Q 1.17,10.00 0.12,8.50"/><path transform="translate(35.93,0) scale(0.924,1)" d="M 5.03,10.00 L 5.03,0.00 L 0.00,7.00 L 7.00,7.00"/></g>
<line x1="221" y1="323" x2="221" y2="419" stroke="#2e2e2e" stroke-width="1.65"/>
<line x1="221" y1="454" x2="221" y2="810" stroke="#2e2e2e" stroke-width="1.65"/>
<line x1="218" y1="327" x2="437" y2="327" stroke="#2e2e2e" stroke-width="1.65"/>
<line x1="306" y1="362.2" x2="402" y2="362.2" stroke="#2e2e2e" stroke-width="1.65"/>
<line x1="316" y1="716.3" x2="401" y2="716.3" stroke="#2e2e2e" stroke-width="1.65"/>
<line x1="240" y1="784.5" x2="438" y2="784.5" stroke="#2e2e2e" stroke-width="1.65"/>
<line x1="395.3" y1="278" x2="395.3" y2="784.5" stroke="#2e2e2e" stroke-width="1.65"/>
<line x1="393.8" y1="332" x2="396.8" y2="332" stroke="#2e2e2e" stroke-width="1.0"/>
<line x1="393.8" y1="357" x2="396.8" y2="357" stroke="#2e2e2e" stroke-width="1.0"/>
<path d="M395.3,362.2 L393.4,356.2 L397.2,356.2 Z" fill="#222"/>
<path d="M395.3,716.3 L393.4,710.3 L397.2,710.3 Z" fill="#222"/>
<path d="M395.3,716.3 L397.2,722.3 L393.4,722.3 Z" fill="#222"/>
<path d="M395.3,784.5 L393.4,778.5 L397.2,778.5 Z" fill="#222"/>
<line x1="432.2" y1="327" x2="432.2" y2="784.5" stroke="#2e2e2e" stroke-width="1.65"/>
<path d="M432.2,327.0 L434.1,333.0 L430.3,333.0 Z" fill="#222"/>
<path d="M432.2,784.5 L430.3,778.5 L434.1,778.5 Z" fill="#222"/>
<g transform="translate(391.2,323.2) rotate(-90) translate(0,-12.76) scale(1.2756)" fill="none" stroke="#262626" stroke-width="1.345" stroke-linecap="round" stroke-linejoin="round"><path transform="translate(0.00,0) scale(0.800,1)" d="M 0.35,2.60 Q 0.70,0.00 3.50,0.00 Q 6.77,0.00 6.77,2.60 Q 6.77,4.30 4.43,6.00 L 0.00,10.00 L 7.00,10.00"/><path transform="translate(9.44,0) scale(0.800,1)" d="M0.4,9.5 L0.4,10"/><path transform="translate(13.93,0) scale(0.800,1)" d="M 6.42,1.20 Q 5.60,0.00 3.62,0.00 Q 0.00,0.00 0.00,5.40 Q 0.00,10.00 3.50,10.00 Q 7.00,10.00 7.00,7.00 Q 7.00,4.00 3.50,4.00 Q 1.05,4.00 0.12,6.20"/><path transform="translate(23.37,0) scale(0.800,1)" d="M 5.03,10.00 L 5.03,0.00 L 0.00,7.00 L 7.00,7.00"/></g>
<g transform="translate(392.1,579.8) rotate(-90) translate(0,-13.29) scale(1.3291)" fill="none" stroke="#262626" stroke-width="1.345" stroke-linecap="round" stroke-linejoin="round"><path transform="translate(0.00,0) scale(0.800,1)" d="M 0.35,2.60 Q 0.70,0.00 3.50,0.00 Q 6.77,0.00 6.77,2.60 Q 6.77,4.30 4.43,6.00 L 0.00,10.00 L 7.00,10.00"/><path transform="translate(9.36,0) scale(0.800,1)" d="M 6.42,1.20 Q 5.60,0.00 3.62,0.00 Q 0.00,0.00 0.00,5.40 Q 0.00,10.00 3.50,10.00 Q 7.00,10.00 7.00,7.00 Q 7.00,4.00 3.50,4.00 Q 1.05,4.00 0.12,6.20"/><path transform="translate(18.71,0) scale(0.800,1)" d="M0.4,9.5 L0.4,10"/><path transform="translate(23.11,0) scale(0.800,1)" d="M 5.03,10.00 L 5.03,0.00 L 0.00,7.00 L 7.00,7.00"/><path transform="translate(32.46,0) scale(0.800,1)" d="M 0.35,2.00 Q 1.17,0.00 3.50,0.00 Q 6.53,0.00 6.53,2.40 Q 6.53,4.60 3.03,4.70 Q 7.00,4.80 7.00,7.40 Q 7.00,10.00 3.50,10.00 Q 0.93,10.00 0.00,8.20"/></g>
<g transform="translate(392.7,775.0) rotate(-90) translate(0,-13.58) scale(1.3580)" fill="none" stroke="#262626" stroke-width="1.325" stroke-linecap="round" stroke-linejoin="round"><path transform="translate(0.00,0) scale(0.800,1)" d="M 6.53,0.00 L 1.05,0.00 L 0.58,4.40 Q 1.87,3.60 3.50,3.60 Q 7.00,3.60 7.00,6.80 Q 7.00,10.00 3.50,10.00 Q 1.17,10.00 0.12,8.50"/><path transform="translate(8.42,0) scale(0.800,1)" d="M0.4,9.5 L0.4,10"/><path transform="translate(11.88,0) scale(0.800,1)" d="M 3.50,0.00 A 3.50,5 0 0 1 3.50,10 A 3.50,5 0 0 1 3.50,0 Z"/><path transform="translate(20.31,0) scale(0.800,1)" d="M 3.50,0.00 A 3.50,5 0 0 1 3.50,10 A 3.50,5 0 0 1 3.50,0 Z"/></g>
<g transform="translate(429.7,595.7) rotate(-90) translate(0,-13.88) scale(1.3880)" fill="none" stroke="#262626" stroke-width="1.297" stroke-linecap="round" stroke-linejoin="round"><path transform="translate(0.00,0) scale(0.800,1)" d="M 0.35,2.00 Q 1.17,0.00 3.50,0.00 Q 6.53,0.00 6.53,2.40 Q 6.53,4.60 3.03,4.70 Q 7.00,4.80 7.00,7.40 Q 7.00,10.00 3.50,10.00 Q 0.93,10.00 0.00,8.20"/><path transform="translate(8.59,0) scale(0.800,1)" d="M 5.03,10.00 L 5.03,0.00 L 0.00,7.00 L 7.00,7.00"/><path transform="translate(17.18,0) scale(0.800,1)" d="M0.4,9.5 L0.4,10"/><path transform="translate(20.81,0) scale(0.800,1)" d="M 3.50,0.00 A 3.50,5 0 0 1 3.50,10 A 3.50,5 0 0 1 3.50,0 Z"/><path transform="translate(29.40,0) scale(0.800,1)" d="M 0.00,0.00 L 7.00,0.00 L 2.33,10.00"/></g>
<path d="M120,348.5 Q221,305 318,348.5" stroke="#2e2e2e" stroke-width="1.3" fill="none"/>
<path d="M197,349.5 Q221,336 245,349.5" stroke="#2e2e2e" stroke-width="1.1" fill="none"/>
<rect x="217.5" y="343" width="7" height="4" rx="0" stroke="#2e2e2e" stroke-width="0" fill="#333"/>
<rect x="129.5" y="343.5" width="7" height="5" rx="0" stroke="#222" stroke-width="1.0" fill="#333"/>
<rect x="304" y="343.5" width="7" height="5" rx="0" stroke="#222" stroke-width="1.0" fill="#333"/>
<rect x="131.5" y="345" width="3" height="2" rx="0" stroke="#fff" stroke-width="0" fill="#ddd"/>
<rect x="306" y="345" width="3" height="2" rx="0" stroke="#fff" stroke-width="0" fill="#ddd"/>
<path d="M115.5,350 L326.5,350" stroke="#777" stroke-width="3.6" fill="none"/>
<line x1="127.7" y1="351.5" x2="127.7" y2="369" stroke="#2e2e2e" stroke-width="1.1"/>
<line x1="140" y1="351.5" x2="140" y2="369" stroke="#2e2e2e" stroke-width="1.1"/>
<line x1="215.4" y1="351.5" x2="215.4" y2="369" stroke="#2e2e2e" stroke-width="1.1"/>
<line x1="226.8" y1="351.5" x2="226.8" y2="369" stroke="#2e2e2e" stroke-width="1.1"/>
<line x1="302.8" y1="351.5" x2="302.8" y2="369" stroke="#2e2e2e" stroke-width="1.1"/>
<line x1="313.3" y1="351.5" x2="313.3" y2="369" stroke="#2e2e2e" stroke-width="1.1"/>
<line x1="140" y1="362" x2="215.4" y2="362" stroke="#2e2e2e" stroke-width="1.1"/>
<line x1="226.8" y1="362" x2="302.8" y2="362" stroke="#2e2e2e" stroke-width="1.1"/>
<line x1="140" y1="368" x2="215.4" y2="368" stroke="#2e2e2e" stroke-width="1.1"/>
<line x1="226.8" y1="368" x2="302.8" y2="368" stroke="#2e2e2e" stroke-width="1.1"/>
<path d="M127.7,369.5 Q116.5,371 116.3,386 L116.3,463 M313.3,369.5 Q330,373 330.3,403 L330.3,463" stroke="#2e2e2e" stroke-width="1.3" fill="none"/>
<line x1="116" y1="463" x2="330.5" y2="463" stroke="#2e2e2e" stroke-width="1.3"/>
<line x1="113" y1="466" x2="333" y2="466" stroke="#2e2e2e" stroke-width="1.1"/>
<circle cx="166.3" cy="436.5" r="6.4" stroke="#2e2e2e" stroke-width="0" fill="#222"/>
<path d="M169,433.5 Q166.5,431.8 164.3,433.5 Q162.8,436.5 164.3,439.5 Q166.5,441.2 169,439.5 M163.5,436.5 L168.5,436.5" stroke="#fff" stroke-width="1.2" fill="none"/>
<g transform="translate(180.2,423.7) scale(1.1596)" fill="none" stroke="#262626" stroke-width="1.345" stroke-linecap="round" stroke-linejoin="round"><path transform="translate(0.00,0)" d="M 0.35,2.00 Q 1.17,0.00 3.50,0.00 Q 6.53,0.00 6.53,2.40 Q 6.53,4.60 3.03,4.70 Q 7.00,4.80 7.00,7.40 Q 7.00,10.00 3.50,10.00 Q 0.93,10.00 0.00,8.20"/><path transform="translate(9.80,0)" d="M0,10.4 L5,-0.4"/><path transform="translate(17.60,0)" d="M 3.50,4.60 Q 0.47,4.60 0.47,2.30 Q 0.47,0.00 3.50,0.00 Q 6.53,0.00 6.53,2.30 Q 6.53,4.60 3.50,4.60 Q 0.00,4.60 0.00,7.30 Q 0.00,10.00 3.50,10.00 Q 7.00,10.00 7.00,7.30 Q 7.00,4.60 3.50,4.60 Z"/><path transform="translate(27.40,0)" d="M1.6,0 L0.4,3"/><path transform="translate(31.81,0)" d="M0,5.4 L4.6,5.4"/><path transform="translate(39.21,0)" d="M0.6,2 L2.8,0 L2.8,10 M0.3,10 L4.6,10"/><path transform="translate(46.61,0)" d="M 6.42,1.20 Q 5.60,0.00 3.62,0.00 Q 0.00,0.00 0.00,5.40 Q 0.00,10.00 3.50,10.00 Q 7.00,10.00 7.00,7.00 Q 7.00,4.00 3.50,4.00 Q 1.05,4.00 0.12,6.20"/><path transform="translate(56.41,0)" d="M0,0 L0,7 Q0,10 3.5,10 Q7,10 7,7 L7,0"/><path transform="translate(66.21,0)" d="M0,10 L0,0 L7.2,10 L7.2,0"/><path transform="translate(76.21,0)" d="M6.9,2 Q5.8,0 3.7,0 Q0,0 0,5 Q0,10 3.7,10 Q5.8,10 6.9,8"/></g>
<line x1="180" y1="437.6" x2="289.6" y2="437.6" stroke="#2e2e2e" stroke-width="1.1"/>
<g transform="translate(203.7,441.5) scale(1.1774)" fill="none" stroke="#262626" stroke-width="1.345" stroke-linecap="round" stroke-linejoin="round"><path transform="translate(0.00,0) scale(0.780,1)" d="M0,0 L7,0 M3.5,0 L3.5,10"/><path transform="translate(9.25,0) scale(0.780,1)" d="M3.3,3.4 A3.3,3.3 0 1 1 3.3,10 A3.3,3.3 0 1 1 3.3,3.4 Z M6.699999999999999,3.4 L6.699999999999999,10"/><path transform="translate(18.27,0) scale(0.780,1)" d="M0,3.4 L0,13.4 M3.3,3.4 A3.3,3.3 0 1 1 3.3,10 A3.3,3.3 0 1 1 3.3,3.4 Z"/></g>
<line x1="180" y1="437.6" x2="124" y2="551.3" stroke="#2e2e2e" stroke-width="1.1"/>
<rect x="326" y="435" width="3" height="4" rx="0" stroke="#2e2e2e" stroke-width="0" fill="#222"/>
<path d="M125,464.8 Q111,466 110.8,482 Q109.5,565 110.8,648 Q111.5,664 127,665.5" stroke="#1a1a1a" stroke-width="2.5" fill="none"/>
<path d="M317,464.8 Q331,466 331.2,482 Q332.5,565 331.2,648 Q330.5,664 315,665.5" stroke="#1a1a1a" stroke-width="2.5" fill="none"/>
<path d="M128.0,465.5 Q113.8,467.5 113.4,487.5 Q112.8,565.0 113.4,642.5 Q113.8,662.5 128.0,664.5" stroke="#2a2a2a" stroke-width="1.25" fill="none"/>
<path d="M132.5,465.5 Q119.4,467.5 119.0,487.5 Q118.4,565.0 119.0,642.5 Q119.4,662.5 132.5,664.5" stroke="#2a2a2a" stroke-width="1.25" fill="none"/>
<path d="M136.8,465.5 Q124.7,467.5 124.3,487.5 Q123.8,565.0 124.3,642.5 Q124.7,662.5 136.8,664.5" stroke="#2a2a2a" stroke-width="1.25" fill="none"/>
<path d="M140.4,465.5 Q129.2,467.5 128.8,487.5 Q128.3,565.0 128.8,642.5 Q129.2,662.5 140.4,664.5" stroke="#2a2a2a" stroke-width="1.25" fill="none"/>
<path d="M145.4,465.5 Q135.4,467.5 135.1,487.5 Q134.7,565.0 135.1,642.5 Q135.4,662.5 145.4,664.5" stroke="#2a2a2a" stroke-width="1.25" fill="none"/>
<path d="M150.8,465.5 Q142.0,467.5 141.8,487.5 Q141.4,565.0 141.8,642.5 Q142.0,662.5 150.8,664.5" stroke="#2a2a2a" stroke-width="1.25" fill="none"/>
<path d="M156.2,465.5 Q148.7,467.5 148.5,487.5 Q148.2,565.0 148.5,642.5 Q148.7,662.5 156.2,664.5" stroke="#2a2a2a" stroke-width="1.25" fill="none"/>
<path d="M160.5,465.5 Q154.0,467.5 153.8,487.5 Q153.6,565.0 153.8,642.5 Q154.0,662.5 160.5,664.5" stroke="#2a2a2a" stroke-width="1.25" fill="none"/>
<path d="M164.4,465.5 Q158.9,467.5 158.7,487.5 Q158.5,565.0 158.7,642.5 Q158.9,662.5 164.4,664.5" stroke="#2a2a2a" stroke-width="1.25" fill="none"/>
<path d="M168.0,465.5 Q163.3,467.5 163.2,487.5 Q163.0,565.0 163.2,642.5 Q163.3,662.5 168.0,664.5" stroke="#2a2a2a" stroke-width="1.25" fill="none"/>
<path d="M172.3,465.5 Q168.6,467.5 168.5,487.5 Q168.4,565.0 168.5,642.5 Q168.6,662.5 172.3,664.5" stroke="#2a2a2a" stroke-width="1.25" fill="none"/>
<path d="M176.6,465.5 Q174.0,467.5 173.9,487.5 Q173.9,565.0 173.9,642.5 Q174.0,662.5 176.6,664.5" stroke="#2a2a2a" stroke-width="1.25" fill="none"/>
<path d="M181.1,465.5 Q179.5,467.5 179.5,487.5 Q179.5,565.0 179.5,642.5 Q179.5,662.5 181.1,664.5" stroke="#2a2a2a" stroke-width="1.25" fill="none"/>
<path d="M283.1,465.5 Q285.5,467.5 285.6,487.5 Q285.6,565.0 285.6,642.5 Q285.5,662.5 283.1,664.5" stroke="#2a2a2a" stroke-width="1.25" fill="none"/>
<path d="M286.4,465.5 Q290.1,467.5 290.2,487.5 Q290.3,565.0 290.2,642.5 Q290.1,662.5 286.4,664.5" stroke="#2a2a2a" stroke-width="1.25" fill="none"/>
<path d="M290.1,465.5 Q295.1,467.5 295.2,487.5 Q295.4,565.0 295.2,642.5 Q295.1,662.5 290.1,664.5" stroke="#2a2a2a" stroke-width="1.25" fill="none"/>
<path d="M294.9,465.5 Q301.7,467.5 301.9,487.5 Q302.1,565.0 301.9,642.5 Q301.7,662.5 294.9,664.5" stroke="#2a2a2a" stroke-width="1.25" fill="none"/>
<path d="M297.9,465.5 Q305.7,467.5 306.0,487.5 Q306.3,565.0 306.0,642.5 Q305.7,662.5 297.9,664.5" stroke="#2a2a2a" stroke-width="1.25" fill="none"/>
<path d="M300.9,465.5 Q309.8,467.5 310.0,487.5 Q310.4,565.0 310.0,642.5 Q309.8,662.5 300.9,664.5" stroke="#2a2a2a" stroke-width="1.25" fill="none"/>
<path d="M303.8,465.5 Q313.8,467.5 314.1,487.5 Q314.5,565.0 314.1,642.5 Q313.8,662.5 303.8,664.5" stroke="#2a2a2a" stroke-width="1.25" fill="none"/>
<path d="M307.1,465.5 Q318.3,467.5 318.7,487.5 Q319.2,565.0 318.7,642.5 Q318.3,662.5 307.1,664.5" stroke="#2a2a2a" stroke-width="1.25" fill="none"/>
<path d="M310.1,465.5 Q322.4,467.5 322.8,487.5 Q323.3,565.0 322.8,642.5 Q322.4,662.5 310.1,664.5" stroke="#2a2a2a" stroke-width="1.25" fill="none"/>
<path d="M313.1,465.5 Q326.4,467.5 326.8,487.5 Q327.4,565.0 326.8,642.5 Q326.4,662.5 313.1,664.5" stroke="#2a2a2a" stroke-width="1.25" fill="none"/>
<path d="M315.0,465.5 Q329.0,467.5 329.5,487.5 Q330.1,565.0 329.5,642.5 Q329.0,662.5 315.0,664.5" stroke="#2a2a2a" stroke-width="1.25" fill="none"/>
<rect x="186.4" y="469.3" width="90.9" height="186.5" rx="4" stroke="#2e2e2e" stroke-width="1.3" fill="none"/>
<line x1="183" y1="469" x2="183" y2="660" stroke="#2e2e2e" stroke-width="1.2"/>
<line x1="280" y1="469" x2="280" y2="660" stroke="#2e2e2e" stroke-width="1.2"/>
<rect x="207" y="463.5" width="28" height="6" rx="2.5" stroke="#2e2e2e" stroke-width="1.0" fill="#fff"/>
<rect x="177.3" y="500.6" width="107" height="118.2" rx="4.5" stroke="#222" stroke-width="1.9" fill="#fff"/>
<rect x="197.1" y="505.2" width="68.7" height="109" rx="2.5" stroke="#222" stroke-width="1.8" fill="none"/>
<line x1="183.2" y1="514" x2="183.2" y2="606" stroke="#2e2e2e" stroke-width="1.3"/>
<line x1="279" y1="514" x2="279" y2="606" stroke="#2e2e2e" stroke-width="1.3"/>
<circle cx="185.9" cy="509.8" r="2.5" stroke="#222" stroke-width="1.3" fill="#fff"/>
<circle cx="276.4" cy="509.8" r="2.5" stroke="#222" stroke-width="1.3" fill="#fff"/>
<circle cx="185.9" cy="609.6" r="2.5" stroke="#222" stroke-width="1.3" fill="#fff"/>
<circle cx="276.4" cy="609.6" r="2.5" stroke="#222" stroke-width="1.3" fill="#fff"/>
<line x1="188.5" y1="509" x2="197" y2="507" stroke="#2e2e2e" stroke-width="1.0"/>
<line x1="273.8" y1="509" x2="265.8" y2="507" stroke="#2e2e2e" stroke-width="1.0"/>
<line x1="188.5" y1="611" x2="197" y2="613" stroke="#2e2e2e" stroke-width="1.0"/>
<line x1="273.8" y1="611" x2="265.8" y2="613" stroke="#2e2e2e" stroke-width="1.0"/>
<circle cx="195.5" cy="625.5" r="2.4" stroke="#2e2e2e" stroke-width="0" fill="#333"/>
<circle cx="266" cy="625.5" r="2.4" stroke="#2e2e2e" stroke-width="0" fill="#333"/>
<rect x="190" y="619.5" width="80" height="6" rx="0" stroke="#999" stroke-width="0" fill="#bbb"/>
<line x1="232" y1="610" x2="232" y2="631" stroke="#555" stroke-width="2"/>
<line x1="224" y1="527" x2="226" y2="527" stroke="#999" stroke-width="0.8"/>
<line x1="221" y1="469" x2="221" y2="655" stroke="#2e2e2e" stroke-width="1.65"/>
<rect x="314.5" y="542.5" width="12.1" height="41" rx="2.5" stroke="#2e2e2e" stroke-width="1.2" fill="#fff"/>
<line x1="92" y1="563.4" x2="350" y2="563.4" stroke="#2e2e2e" stroke-width="1.2"/>
<path d="M84.5,509 L87,505.5 L110.5,541.5 L110.5,582 L107.5,579 L107.5,545 Z" stroke="#2e2e2e" stroke-width="1.1" fill="#fff"/>
<path d="M357.3,509 L354.8,505.5 L331.3,541.5 L331.3,582 L334.3,579 L334.3,545 Z" stroke="#2e2e2e" stroke-width="1.1" fill="#fff"/>
<rect x="97.5" y="555.5" width="7.5" height="16" rx="2" stroke="#2e2e2e" stroke-width="1.3" fill="#fff"/>
<rect x="336.5" y="555.5" width="7.5" height="16" rx="2" stroke="#2e2e2e" stroke-width="1.3" fill="#fff"/>
<line x1="93" y1="563.4" x2="110" y2="563.4" stroke="#2e2e2e" stroke-width="1.2"/>
<rect x="119.5" y="557" width="9" height="13" rx="0" stroke="#2e2e2e" stroke-width="1.1" fill="none"/>
<path d="M124.0,553.0 L125.1,545.7 L129.2,547.8 Z" fill="#222"/>
<line x1="186" y1="655.4" x2="277" y2="655.4" stroke="#333" stroke-width="2.0"/>
<path d="M119.6,666.8 L321.8,666.8" stroke="#222" stroke-width="2.2" fill="none"/>
<path d="M120,667 L120,697 Q120.5,708 134,709.5" stroke="#222" stroke-width="2.2" fill="none"/>
<path d="M321.8,667 L321.8,692 Q321,707 308,709.5" stroke="#222" stroke-width="2.2" fill="none"/>
<circle cx="327.2" cy="693.2" r="2.2" stroke="#2e2e2e" stroke-width="0" fill="#222"/>
<path d="M144.7,668 L144.7,699 Q144.7,707 137.7,707.5" stroke="#222" stroke-width="1.8" fill="none"/>
<path d="M152.4,668 L152.4,699 Q152.4,707 145.4,707.5" stroke="#222" stroke-width="1.8" fill="none"/>
<path d="M160.2,668 L160.2,699 Q160.2,707 153.2,707.5" stroke="#222" stroke-width="1.8" fill="none"/>
<path d="M167.9,668 L167.9,699 Q167.9,707 160.9,707.5" stroke="#222" stroke-width="1.8" fill="none"/>
<path d="M176.7,668 L176.7,699 Q176.7,707 169.7,707.5" stroke="#222" stroke-width="1.8" fill="none"/>
<path d="M184.4,668 L184.4,699 Q184.4,707 177.4,707.5" stroke="#222" stroke-width="1.8" fill="none"/>
<path d="M192.1,668 L192.1,699 Q192.1,707 185.1,707.5" stroke="#222" stroke-width="1.8" fill="none"/>
<path d="M200.9,668 L200.9,699 Q200.9,707 193.9,707.5" stroke="#222" stroke-width="1.8" fill="none"/>
<path d="M244,668 L244,699 Q244,707 237,707.5" stroke="#222" stroke-width="1.8" fill="none"/>
<path d="M251.5,668 L251.5,699 Q251.5,707 244.5,707.5" stroke="#222" stroke-width="1.8" fill="none"/>
<path d="M258.6,668 L258.6,699 Q258.6,707 251.60000000000002,707.5" stroke="#222" stroke-width="1.8" fill="none"/>
<path d="M266.5,668 L266.5,699 Q266.5,707 259.5,707.5" stroke="#222" stroke-width="1.8" fill="none"/>
<path d="M274.5,668 L274.5,699 Q274.5,707 267.5,707.5" stroke="#222" stroke-width="1.8" fill="none"/>
<path d="M282.4,668 L282.4,699 Q282.4,707 275.4,707.5" stroke="#222" stroke-width="1.8" fill="none"/>
<path d="M289.5,668 L289.5,699 Q289.5,707 282.5,707.5" stroke="#222" stroke-width="1.8" fill="none"/>
<path d="M296.5,668 L296.5,699 Q296.5,707 289.5,707.5" stroke="#222" stroke-width="1.8" fill="none"/>
<line x1="133.2" y1="676" x2="133.2" y2="708" stroke="#333" stroke-width="1.3"/>
<line x1="308.8" y1="676" x2="308.8" y2="708" stroke="#333" stroke-width="1.3"/>
<rect x="127" y="667" width="15.400000000000006" height="9" rx="0" stroke="#333" stroke-width="1.1" fill="#fff"/>
<line x1="134.7" y1="667" x2="134.7" y2="676" stroke="#333" stroke-width="1.0"/>
<path d="M130,676 L131,680 L138.4,680 L139.4,676" stroke="#333" stroke-width="1.0" fill="#888"/>
<rect x="298.7" y="667" width="16.19999999999999" height="9" rx="0" stroke="#333" stroke-width="1.1" fill="#fff"/>
<line x1="306.79999999999995" y1="667" x2="306.79999999999995" y2="676" stroke="#333" stroke-width="1.0"/>
<path d="M301.7,676 L302.7,680 L310.9,680 L311.9,676" stroke="#333" stroke-width="1.0" fill="#888"/>
<rect x="208.5" y="655.4" width="24" height="21.5" rx="0" stroke="#333" stroke-width="1.2" fill="#fff"/>
<line x1="208.5" y1="665.4" x2="232.5" y2="665.4" stroke="#333" stroke-width="2"/>
<path d="M204.6,677 L204.6,707 Q205,712.5 211,712.5 L231,712.5 Q237,712.5 237,707 L237,677 Z" stroke="#333" stroke-width="1.2" fill="#fff"/>
<line x1="208.5" y1="677" x2="232.5" y2="677" stroke="#333" stroke-width="1.2"/>
<path d="M214,677 L216,682 L226,682 L228,677" stroke="#333" stroke-width="1.0" fill="#999"/>
<line x1="221" y1="655" x2="221" y2="712" stroke="#2e2e2e" stroke-width="1.2"/>
<line x1="134" y1="710.5" x2="309" y2="710.5" stroke="#333" stroke-width="1.2"/>
<path d="M137.7,712.8 L189.3,712.8 L189.3,715 L155,717.4 L137.7,717.4 Z" stroke="#666" stroke-width="0.8" fill="#999"/>
<path d="M251,712.8 L304.8,712.8 L304.8,717.4 L272.5,717.4 Z" stroke="#666" stroke-width="0.8" fill="#999"/>
<line x1="317" y1="714.8" x2="366" y2="714.8" stroke="#888" stroke-width="2.6"/>
<line x1="129.3" y1="711" x2="129.3" y2="863.5" stroke="#2e2e2e" stroke-width="1.65"/>
<line x1="136.7" y1="711" x2="136.7" y2="838" stroke="#2e2e2e" stroke-width="1.65"/>
<line x1="303.8" y1="711" x2="303.8" y2="838" stroke="#2e2e2e" stroke-width="1.65"/>
<line x1="311.6" y1="711" x2="311.6" y2="863.5" stroke="#2e2e2e" stroke-width="1.65"/>
<rect x="207.7" y="712.5" width="26.3" height="71.8" rx="0" stroke="#333" stroke-width="1.3" fill="#fff"/>
<rect x="229.7" y="729" width="5.3" height="55.3" rx="0" stroke="#333" stroke-width="1.0" fill="#888"/>
<line x1="233" y1="712.5" x2="233" y2="729" stroke="#333" stroke-width="1.0"/>
<line x1="193.3" y1="712.5" x2="193.3" y2="784.3" stroke="#2e2e2e" stroke-width="1.65"/>
<path d="M193.3,712.5 L195.2,718.5 L191.4,718.5 Z" fill="#222"/>
<path d="M193.3,784.3 L191.4,778.3 L195.2,778.3 Z" fill="#222"/>
<line x1="189" y1="784.3" x2="207" y2="784.3" stroke="#2e2e2e" stroke-width="1.65"/>
<g transform="translate(190.3,772.3) rotate(-90) translate(0,-11.60) scale(1.1596)" fill="none" stroke="#262626" stroke-width="1.345" stroke-linecap="round" stroke-linejoin="round"><path transform="translate(0.00,0) scale(0.892,1)" d="M 6.53,0.00 L 1.05,0.00 L 0.58,4.40 Q 1.87,3.60 3.50,3.60 Q 7.00,3.60 7.00,6.80 Q 7.00,10.00 3.50,10.00 Q 1.17,10.00 0.12,8.50"/><path transform="translate(10.74,0) scale(0.892,1)" d="M0.4,9.5 L0.4,10"/><path transform="translate(15.96,0) scale(0.892,1)" d="M 0.35,2.60 Q 0.70,0.00 3.50,0.00 Q 6.77,0.00 6.77,2.60 Q 6.77,4.30 4.43,6.00 L 0.00,10.00 L 7.00,10.00"/><path transform="translate(26.70,0) scale(0.892,1)" d="M 6.53,0.00 L 1.05,0.00 L 0.58,4.40 Q 1.87,3.60 3.50,3.60 Q 7.00,3.60 7.00,6.80 Q 7.00,10.00 3.50,10.00 Q 1.17,10.00 0.12,8.50"/></g>
<line x1="244" y1="731" x2="264" y2="731" stroke="#2e2e2e" stroke-width="1.65"/>
<line x1="261.6" y1="731" x2="261.6" y2="784.3" stroke="#2e2e2e" stroke-width="1.65"/>
<path d="M261.6,731.0 L263.5,737.0 L259.7,737.0 Z" fill="#222"/>
<path d="M261.6,784.3 L259.7,778.3 L263.5,778.3 Z" fill="#222"/>
<g transform="translate(258.6,781.2) rotate(-90) translate(0,-13.78) scale(1.3780)" fill="none" stroke="#262626" stroke-width="1.306" stroke-linecap="round" stroke-linejoin="round"><path transform="translate(0.00,0) scale(0.800,1)" d="M 0.35,2.00 Q 1.17,0.00 3.50,0.00 Q 6.53,0.00 6.53,2.40 Q 6.53,4.60 3.03,4.70 Q 7.00,4.80 7.00,7.40 Q 7.00,10.00 3.50,10.00 Q 0.93,10.00 0.00,8.20"/><path transform="translate(8.60,0) scale(0.800,1)" d="M0.4,9.5 L0.4,10"/><path transform="translate(12.24,0) scale(0.800,1)" d="M 6.88,3.80 Q 5.95,6.00 3.50,6.00 Q 0.00,6.00 0.00,3.00 Q 0.00,0.00 3.50,0.00 Q 7.00,0.00 7.00,4.60 Q 7.00,10.00 3.50,10.00 Q 1.40,10.00 0.58,8.80"/><path transform="translate(20.83,0) scale(0.800,1)" d="M0.6,2 L2.8,0 L2.8,10 M0.3,10 L4.6,10"/></g>
<line x1="359.3" y1="674.5" x2="359.3" y2="734" stroke="#2e2e2e" stroke-width="1.0"/>
<path d="M359.3,714.8 L357.5,709.8 L361.1,709.8 Z" fill="#222"/>
<path d="M359.3,716.3 L361.1,721.3 L357.5,721.3 Z" fill="#222"/>
<g transform="translate(358.5,704.5) rotate(-90) translate(0,-7.52) scale(0.7520)" fill="none" stroke="#262626" stroke-width="1.596" stroke-linecap="round" stroke-linejoin="round"><path transform="translate(0.00,0) scale(1.023,1)" d="M 3.50,0.00 A 3.50,5 0 0 1 3.50,10 A 3.50,5 0 0 1 3.50,0 Z"/><path transform="translate(11.66,0) scale(1.023,1)" d="M0.4,9.5 L0.4,10"/><path transform="translate(16.98,0) scale(1.023,1)" d="M 0.35,2.60 Q 0.70,0.00 3.50,0.00 Q 6.77,0.00 6.77,2.60 Q 6.77,4.30 4.43,6.00 L 0.00,10.00 L 7.00,10.00"/><path transform="translate(28.64,0) scale(1.023,1)" d="M 6.53,0.00 L 1.05,0.00 L 0.58,4.40 Q 1.87,3.60 3.50,3.60 Q 7.00,3.60 7.00,6.80 Q 7.00,10.00 3.50,10.00 Q 1.17,10.00 0.12,8.50"/></g>
<rect x="77.7" y="763" width="92.3" height="25.5" rx="0" stroke="#333" stroke-width="1.2" fill="#fff"/>
<line x1="94.2" y1="763" x2="94.2" y2="788.5" stroke="#333" stroke-width="1.2"/>
<line x1="153.7" y1="763" x2="153.7" y2="788.5" stroke="#333" stroke-width="1.2"/>
<line x1="84.5" y1="769" x2="84.5" y2="782" stroke="#333" stroke-width="1.3"/>
<line x1="81" y1="782" x2="89" y2="782" stroke="#333" stroke-width="1.3"/>
<g transform="translate(99.4,769.5) scale(1.2756)" fill="none" stroke="#262626" stroke-width="1.345" stroke-linecap="round" stroke-linejoin="round"><path transform="translate(0.00,0) scale(0.662,1)" d="M 3.50,0.00 A 3.50,5 0 0 1 3.50,10 A 3.50,5 0 0 1 3.50,0 Z"/><path transform="translate(5.83,0) scale(0.662,1)" d="M0.4,9.5 L0.4,10"/><path transform="translate(7.56,0) scale(0.662,1)" d="M 3.50,0.00 A 3.50,5 0 0 1 3.50,10 A 3.50,5 0 0 1 3.50,0 Z"/><path transform="translate(13.40,0) scale(0.662,1)" d="M 3.50,0.00 A 3.50,5 0 0 1 3.50,10 A 3.50,5 0 0 1 3.50,0 Z"/><path transform="translate(19.23,0) scale(0.662,1)" d="M0.6,2 L2.8,0 L2.8,10 M0.3,10 L4.6,10"/><path transform="translate(23.48,0) scale(0.662,1)" d="M 6.53,0.00 L 1.05,0.00 L 0.58,4.40 Q 1.87,3.60 3.50,3.60 Q 7.00,3.60 7.00,6.80 Q 7.00,10.00 3.50,10.00 Q 1.17,10.00 0.12,8.50"/></g>
<g transform="translate(158.8,769.8) scale(1.2488)" fill="none" stroke="#262626" stroke-width="1.345" stroke-linecap="round" stroke-linejoin="round"><path transform="translate(0.00,0)" d="M0,10 L3.8,0 L7.6,10 M1.4,6.4 L6.2,6.4"/></g>
<line x1="170" y1="775" x2="205" y2="775" stroke="#2e2e2e" stroke-width="1.65"/>
<path d="M207.5,775.0 L201.5,776.9 L201.5,773.1 Z" fill="#222"/>
<rect x="181" y="793.8" width="16.5" height="19" rx="0" stroke="#333" stroke-width="1.2" fill="#fff"/>
<rect x="183" y="796" width="12.5" height="15" rx="0" stroke="#555" stroke-width="0.8" fill="none"/>
<g transform="translate(184.6,798.1) scale(1.0258)" fill="none" stroke="#262626" stroke-width="1.345" stroke-linecap="round" stroke-linejoin="round"><path transform="translate(0.00,0)" d="M0,10 L3.8,0 L7.6,10 M1.4,6.4 L6.2,6.4"/></g>
<line x1="197.5" y1="802.7" x2="221" y2="802.7" stroke="#2e2e2e" stroke-width="1.65"/>
<line x1="136.7" y1="833.6" x2="303.8" y2="833.6" stroke="#2e2e2e" stroke-width="1.65"/>
<path d="M136.7,833.6 L142.7,831.7 L142.7,835.5 Z" fill="#222"/>
<path d="M303.8,833.6 L297.8,835.5 L297.8,831.7 Z" fill="#222"/>
<g transform="translate(176.8,816.1) scale(1.3580)" fill="none" stroke="#262626" stroke-width="1.325" stroke-linecap="round" stroke-linejoin="round"><path transform="translate(0.00,0) scale(0.800,1)" d="M0.6,2 L2.8,0 L2.8,10 M0.3,10 L4.6,10"/><path transform="translate(6.80,0) scale(0.800,1)" d="M 0.35,2.60 Q 0.70,0.00 3.50,0.00 Q 6.77,0.00 6.77,2.60 Q 6.77,4.30 4.43,6.00 L 0.00,10.00 L 7.00,10.00"/><path transform="translate(15.52,0) scale(0.800,1)" d="M0.4,9.5 L0.4,10"/><path transform="translate(19.27,0) scale(0.800,1)" d="M 6.53,0.00 L 1.05,0.00 L 0.58,4.40 Q 1.87,3.60 3.50,3.60 Q 7.00,3.60 7.00,6.80 Q 7.00,10.00 3.50,10.00 Q 1.17,10.00 0.12,8.50"/></g>
<g transform="translate(228.5,815.5) scale(0.6420)" fill="none" stroke="#262626" stroke-width="1.869" stroke-linecap="round" stroke-linejoin="round"><path transform="translate(0.00,0)" d="M0,5 L5.4,5 M2.7,2.3 L2.7,7.7"/><path transform="translate(6.89,0)" d="M 3.50,0.00 A 3.50,5 0 0 1 3.50,10 A 3.50,5 0 0 1 3.50,0 Z"/></g>
<g transform="translate(228.5,824.0) scale(0.6920)" fill="none" stroke="#262626" stroke-width="1.734" stroke-linecap="round" stroke-linejoin="round"><path transform="translate(0.00,0)" d="M0,5.4 L4.6,5.4"/><path transform="translate(5.99,0)" d="M 3.50,0.00 A 3.50,5 0 0 1 3.50,10 A 3.50,5 0 0 1 3.50,0 Z"/><path transform="translate(14.38,0)" d="M0.4,9.5 L0.4,10"/><path transform="translate(16.57,0)" d="M 3.50,0.00 A 3.50,5 0 0 1 3.50,10 A 3.50,5 0 0 1 3.50,0 Z"/><path transform="translate(24.96,0)" d="M 3.50,0.00 A 3.50,5 0 0 1 3.50,10 A 3.50,5 0 0 1 3.50,0 Z"/><path transform="translate(33.35,0)" d="M 6.53,0.00 L 1.05,0.00 L 0.58,4.40 Q 1.87,3.60 3.50,3.60 Q 7.00,3.60 7.00,6.80 Q 7.00,10.00 3.50,10.00 Q 1.17,10.00 0.12,8.50"/></g>
<line x1="129.3" y1="857" x2="311.6" y2="857" stroke="#2e2e2e" stroke-width="1.65"/>
<path d="M129.3,857.0 L135.3,855.1 L135.3,858.9 Z" fill="#222"/>
<path d="M311.6,857.0 L305.6,858.9 L305.6,855.1 Z" fill="#222"/>
<g transform="translate(190.8,841.5) scale(1.2399)" fill="none" stroke="#262626" stroke-width="1.345" stroke-linecap="round" stroke-linejoin="round"><path transform="translate(0.00,0) scale(0.800,1)" d="M0.6,2 L2.8,0 L2.8,10 M0.3,10 L4.6,10"/><path transform="translate(7.94,0) scale(0.800,1)" d="M 0.35,2.00 Q 1.17,0.00 3.50,0.00 Q 6.53,0.00 6.53,2.40 Q 6.53,4.60 3.03,4.70 Q 7.00,4.80 7.00,7.40 Q 7.00,10.00 3.50,10.00 Q 0.93,10.00 0.00,8.20"/><path transform="translate(17.79,0) scale(0.800,1)" d="M0.4,9.5 L0.4,10"/><path transform="translate(22.69,0) scale(0.800,1)" d="M 6.53,0.00 L 1.05,0.00 L 0.58,4.40 Q 1.87,3.60 3.50,3.60 Q 7.00,3.60 7.00,6.80 Q 7.00,10.00 3.50,10.00 Q 1.17,10.00 0.12,8.50"/><path transform="translate(32.55,0) scale(0.800,1)" d="M 3.50,4.60 Q 0.47,4.60 0.47,2.30 Q 0.47,0.00 3.50,0.00 Q 6.53,0.00 6.53,2.30 Q 6.53,4.60 3.50,4.60 Q 0.00,4.60 0.00,7.30 Q 0.00,10.00 3.50,10.00 Q 7.00,10.00 7.00,7.30 Q 7.00,4.60 3.50,4.60 Z"/></g>
<circle cx="663.9" cy="559.6" r="50.2" stroke="#333" stroke-width="1.6" fill="none"/>
<rect x="650.7" y="497.5" width="26.4" height="27" rx="0" stroke="#333" stroke-width="1.7" fill="#fff"/>
<line x1="569" y1="524.5" x2="644" y2="524.5" stroke="#2e2e2e" stroke-width="1.65"/>
<line x1="682" y1="524.5" x2="769.6" y2="524.5" stroke="#2e2e2e" stroke-width="1.65"/>
<line x1="683.7" y1="497.5" x2="769.6" y2="497.5" stroke="#2e2e2e" stroke-width="1.65"/>
<line x1="663.9" y1="486.5" x2="663.9" y2="619.7" stroke="#2e2e2e" stroke-width="1.65"/>
<line x1="602.8" y1="559.6" x2="725" y2="559.6" stroke="#2e2e2e" stroke-width="1.65"/>
<line x1="574.7" y1="414.9" x2="574.7" y2="609.8" stroke="#2e2e2e" stroke-width="1.65"/>
<path d="M574.7,524.5 L576.6,530.5 L572.8,530.5 Z" fill="#222"/>
<path d="M574.7,609.8 L572.8,603.8 L576.6,603.8 Z" fill="#222"/>
<line x1="569" y1="609.8" x2="659" y2="609.8" stroke="#2e2e2e" stroke-width="1.65"/>
<g transform="translate(571.6,519.8) rotate(-90) translate(0,-14.28) scale(1.4280)" fill="none" stroke="#262626" stroke-width="1.261" stroke-linecap="round" stroke-linejoin="round"><path transform="translate(0.00,0) scale(0.800,1)" d="M0.6,2 L2.8,0 L2.8,10 M0.3,10 L4.6,10"/><path transform="translate(6.80,0) scale(0.800,1)" d="M0.4,9.5 L0.4,10"/><path transform="translate(10.56,0) scale(0.800,1)" d="M 3.50,4.60 Q 0.47,4.60 0.47,2.30 Q 0.47,0.00 3.50,0.00 Q 6.53,0.00 6.53,2.30 Q 6.53,4.60 3.50,4.60 Q 0.00,4.60 0.00,7.30 Q 0.00,10.00 3.50,10.00 Q 7.00,10.00 7.00,7.30 Q 7.00,4.60 3.50,4.60 Z"/><path transform="translate(19.28,0) scale(0.800,1)" d="M 5.03,10.00 L 5.03,0.00 L 0.00,7.00 L 7.00,7.00"/><path transform="translate(28.00,0) scale(0.800,1)" d="M 6.53,0.00 L 1.05,0.00 L 0.58,4.40 Q 1.87,3.60 3.50,3.60 Q 7.00,3.60 7.00,6.80 Q 7.00,10.00 3.50,10.00 Q 1.17,10.00 0.12,8.50"/></g>
<g transform="translate(563.0,455.5) rotate(-90) translate(0,-5.42) scale(0.5420)" fill="none" stroke="#262626" stroke-width="2.214" stroke-linecap="round" stroke-linejoin="round"><path transform="translate(0.00,0) scale(1.708,1)" d="M0,5 L5.4,5 M2.7,2.3 L2.7,7.7"/><path transform="translate(13.72,0) scale(1.708,1)" d="M 3.50,0.00 A 3.50,5 0 0 1 3.50,10 A 3.50,5 0 0 1 3.50,0 Z"/></g>
<g transform="translate(571.9,455.5) rotate(-90) translate(0,-6.32) scale(0.6320)" fill="none" stroke="#262626" stroke-width="1.899" stroke-linecap="round" stroke-linejoin="round"><path transform="translate(0.00,0)" d="M0,5.4 L4.6,5.4"/><path transform="translate(6.92,0)" d="M 3.50,0.00 A 3.50,5 0 0 1 3.50,10 A 3.50,5 0 0 1 3.50,0 Z"/><path transform="translate(16.24,0)" d="M0.4,9.5 L0.4,10"/><path transform="translate(19.36,0)" d="M 3.50,0.00 A 3.50,5 0 0 1 3.50,10 A 3.50,5 0 0 1 3.50,0 Z"/><path transform="translate(28.68,0)" d="M0.6,2 L2.8,0 L2.8,10 M0.3,10 L4.6,10"/><path transform="translate(35.59,0)" d="M 6.53,0.00 L 1.05,0.00 L 0.58,4.40 Q 1.87,3.60 3.50,3.60 Q 7.00,3.60 7.00,6.80 Q 7.00,10.00 3.50,10.00 Q 1.17,10.00 0.12,8.50"/></g>
<line x1="635" y1="461" x2="738.2" y2="461" stroke="#2e2e2e" stroke-width="1.65"/>
<path d="M650.7,461.0 L644.7,462.9 L644.7,459.1 Z" fill="#222"/>
<path d="M677.0,461.0 L683.0,459.1 L683.0,462.9 Z" fill="#222"/>
<line x1="650.7" y1="456" x2="650.7" y2="491" stroke="#2e2e2e" stroke-width="1.65"/>
<line x1="677" y1="456" x2="677" y2="491" stroke="#2e2e2e" stroke-width="1.65"/>
<g transform="translate(679.4,446.7) scale(1.2042)" fill="none" stroke="#262626" stroke-width="1.345" stroke-linecap="round" stroke-linejoin="round"><path transform="translate(0.00,0) scale(0.800,1)" d="M 3.50,0.00 A 3.50,5 0 0 1 3.50,10 A 3.50,5 0 0 1 3.50,0 Z"/><path transform="translate(9.48,0) scale(0.800,1)" d="M0.4,9.5 L0.4,10"/><path transform="translate(14.00,0) scale(0.800,1)" d="M 6.53,0.00 L 1.05,0.00 L 0.58,4.40 Q 1.87,3.60 3.50,3.60 Q 7.00,3.60 7.00,6.80 Q 7.00,10.00 3.50,10.00 Q 1.17,10.00 0.12,8.50"/><path transform="translate(23.49,0) scale(0.800,1)" d="M 3.50,0.00 A 3.50,5 0 0 1 3.50,10 A 3.50,5 0 0 1 3.50,0 Z"/><path transform="translate(32.97,0) scale(0.800,1)" d="M 3.50,0.00 A 3.50,5 0 0 1 3.50,10 A 3.50,5 0 0 1 3.50,0 Z"/></g>
<line x1="764.6" y1="481" x2="764.6" y2="591.6" stroke="#2e2e2e" stroke-width="1.65"/>
<path d="M764.6,497.5 L762.7,491.5 L766.5,491.5 Z" fill="#222"/>
<path d="M764.6,524.5 L766.5,530.5 L762.7,530.5 Z" fill="#222"/>
<g transform="translate(761.2,594.2) rotate(-90) translate(0,-12.93) scale(1.2934)" fill="none" stroke="#262626" stroke-width="1.345" stroke-linecap="round" stroke-linejoin="round"><path transform="translate(0.00,0) scale(0.800,1)" d="M 3.50,0.00 A 3.50,5 0 0 1 3.50,10 A 3.50,5 0 0 1 3.50,0 Z"/><path transform="translate(8.49,0) scale(0.800,1)" d="M0.4,9.5 L0.4,10"/><path transform="translate(12.01,0) scale(0.800,1)" d="M 6.53,0.00 L 1.05,0.00 L 0.58,4.40 Q 1.87,3.60 3.50,3.60 Q 7.00,3.60 7.00,6.80 Q 7.00,10.00 3.50,10.00 Q 1.17,10.00 0.12,8.50"/><path transform="translate(20.50,0) scale(0.800,1)" d="M 3.50,0.00 A 3.50,5 0 0 1 3.50,10 A 3.50,5 0 0 1 3.50,0 Z"/><path transform="translate(28.99,0) scale(0.800,1)" d="M 3.50,0.00 A 3.50,5 0 0 1 3.50,10 A 3.50,5 0 0 1 3.50,0 Z"/></g>
<line x1="613.3" y1="559.6" x2="613.3" y2="671" stroke="#2e2e2e" stroke-width="1.65"/>
<line x1="714.4" y1="559.6" x2="714.4" y2="671" stroke="#2e2e2e" stroke-width="1.65"/>
<line x1="613.3" y1="664.3" x2="820.8" y2="664.3" stroke="#2e2e2e" stroke-width="1.65"/>
<path d="M613.3,664.3 L619.3,662.4 L619.3,666.2 Z" fill="#222"/>
<path d="M714.4,664.3 L708.4,666.2 L708.4,662.4 Z" fill="#222"/>
<g transform="translate(714.2,646.8) scale(1.3380)" fill="none" stroke="#262626" stroke-width="1.345" stroke-linecap="round" stroke-linejoin="round"><path transform="translate(0.00,0) scale(0.800,1)" d="M3.3,3.4 A3.3,3.3 0 1 1 3.3,10 A3.3,3.3 0 1 1 3.3,3.4 Z M6.6,2 L0,11.4"/><path transform="translate(8.65,0) scale(0.800,1)" d="M 0.35,2.60 Q 0.70,0.00 3.50,0.00 Q 6.77,0.00 6.77,2.60 Q 6.77,4.30 4.43,6.00 L 0.00,10.00 L 7.00,10.00"/><path transform="translate(17.62,0) scale(0.800,1)" d="M0.4,9.5 L0.4,10"/><path transform="translate(21.64,0) scale(0.800,1)" d="M0.6,2 L2.8,0 L2.8,10 M0.3,10 L4.6,10"/><path transform="translate(28.69,0) scale(0.800,1)" d="M 0.35,2.60 Q 0.70,0.00 3.50,0.00 Q 6.77,0.00 6.77,2.60 Q 6.77,4.30 4.43,6.00 L 0.00,10.00 L 7.00,10.00"/><path transform="translate(37.66,0) scale(0.800,1)" d="M 6.53,0.00 L 1.05,0.00 L 0.58,4.40 Q 1.87,3.60 3.50,3.60 Q 7.00,3.60 7.00,6.80 Q 7.00,10.00 3.50,10.00 Q 1.17,10.00 0.12,8.50"/></g>
<g transform="translate(789.9,646.5) scale(0.5920)" fill="none" stroke="#262626" stroke-width="2.027" stroke-linecap="round" stroke-linejoin="round"><path transform="translate(0.00,0)" d="M0,5 L5.4,5 M2.7,2.3 L2.7,7.7"/><path transform="translate(7.39,0)" d="M 3.50,0.00 A 3.50,5 0 0 1 3.50,10 A 3.50,5 0 0 1 3.50,0 Z"/></g>
<g transform="translate(789.9,654.5) scale(0.7520)" fill="none" stroke="#262626" stroke-width="1.596" stroke-linecap="round" stroke-linejoin="round"><path transform="translate(0.00,0) scale(0.989,1)" d="M0,5.4 L4.6,5.4"/><path transform="translate(5.15,0) scale(0.989,1)" d="M 3.50,0.00 A 3.50,5 0 0 1 3.50,10 A 3.50,5 0 0 1 3.50,0 Z"/><path transform="translate(12.68,0) scale(0.989,1)" d="M0.4,9.5 L0.4,10"/><path transform="translate(14.07,0) scale(0.989,1)" d="M 3.50,0.00 A 3.50,5 0 0 1 3.50,10 A 3.50,5 0 0 1 3.50,0 Z"/><path transform="translate(21.59,0) scale(0.989,1)" d="M 3.50,0.00 A 3.50,5 0 0 1 3.50,10 A 3.50,5 0 0 1 3.50,0 Z"/><path transform="translate(29.12,0) scale(0.989,1)" d="M0.6,2 L2.8,0 L2.8,10 M0.3,10 L4.6,10"/></g>
<line x1="205" y1="902" x2="293.6" y2="902" stroke="#2e2e2e" stroke-width="1.65"/>
<path d="M220.3,902.0 L214.3,903.9 L214.3,900.1 Z" fill="#222"/>
<path d="M231.3,902.0 L237.3,900.1 L237.3,903.9 Z" fill="#222"/>
<line x1="220.3" y1="895" x2="220.3" y2="1000" stroke="#2e2e2e" stroke-width="1.65"/>
<line x1="231.3" y1="895" x2="231.3" y2="1013" stroke="#2e2e2e" stroke-width="1.65"/>
<g transform="translate(240.4,886.8) scale(1.2488)" fill="none" stroke="#262626" stroke-width="1.345" stroke-linecap="round" stroke-linejoin="round"><path transform="translate(0.00,0) scale(0.809,1)" d="M 3.50,0.00 A 3.50,5 0 0 1 3.50,10 A 3.50,5 0 0 1 3.50,0 Z"/><path transform="translate(10.16,0) scale(0.809,1)" d="M0.4,9.5 L0.4,10"/><path transform="translate(15.31,0) scale(0.809,1)" d="M 0.00,0.00 L 7.00,0.00 L 2.33,10.00"/><path transform="translate(25.48,0) scale(0.809,1)" d="M 6.88,3.80 Q 5.95,6.00 3.50,6.00 Q 0.00,6.00 0.00,3.00 Q 0.00,0.00 3.50,0.00 Q 7.00,0.00 7.00,4.60 Q 7.00,10.00 3.50,10.00 Q 1.40,10.00 0.58,8.80"/></g>
<g transform="translate(95.7,909.2) scale(1.2042)" fill="none" stroke="#262626" stroke-width="1.345" stroke-linecap="round" stroke-linejoin="round"><path transform="translate(0.00,0)" d="M0,10 L0,0 L7.2,10 L7.2,0"/><path transform="translate(11.42,0)" d="M0,10 L0,0 L3.7,0 Q6.2,0 6.2,2.5 Q6.2,5 3.7,5 L0,5"/><path transform="translate(21.84,0)" d="M0,0 L7,0 M3.5,0 L3.5,10"/><path transform="translate(33.06,0)" d="M 0.35,2.60 Q 0.70,0.00 3.50,0.00 Q 6.77,0.00 6.77,2.60 Q 6.77,4.30 4.43,6.00 L 0.00,10.00 L 7.00,10.00"/><path transform="translate(44.27,0)" d="M1.6,0 L0.4,3"/></g>
<line x1="87.3" y1="926" x2="153" y2="926" stroke="#2e2e2e" stroke-width="1.65"/>
<line x1="270.5" y1="922" x2="405.4" y2="922" stroke="#2e2e2e" stroke-width="1.65"/>
<line x1="399.6" y1="922" x2="399.6" y2="1119.3" stroke="#2e2e2e" stroke-width="1.65"/>
<path d="M399.6,922.0 L401.5,928.0 L397.7,928.0 Z" fill="#222"/>
<path d="M399.6,1119.3 L397.7,1113.3 L401.5,1113.3 Z" fill="#222"/>
<line x1="367.7" y1="968.7" x2="367.7" y2="1119.3" stroke="#2e2e2e" stroke-width="1.65"/>
<path d="M367.7,968.7 L369.6,974.7 L365.8,974.7 Z" fill="#222"/>
<path d="M367.7,1119.3 L365.8,1113.3 L369.6,1113.3 Z" fill="#222"/>
<line x1="268.8" y1="968.7" x2="374.5" y2="968.7" stroke="#2e2e2e" stroke-width="1.65"/>
<line x1="200.8" y1="968.7" x2="260" y2="968.7" stroke="#2e2e2e" stroke-width="1.65"/>
<g transform="translate(398.2,1050.2) rotate(-90) translate(0,-13.38) scale(1.3380)" fill="none" stroke="#262626" stroke-width="1.345" stroke-linecap="round" stroke-linejoin="round"><path transform="translate(0.00,0) scale(0.800,1)" d="M0.6,2 L2.8,0 L2.8,10 M0.3,10 L4.6,10"/><path transform="translate(7.07,0) scale(0.800,1)" d="M 5.03,10.00 L 5.03,0.00 L 0.00,7.00 L 7.00,7.00"/><path transform="translate(16.05,0) scale(0.800,1)" d="M0.4,9.5 L0.4,10"/><path transform="translate(20.08,0) scale(0.800,1)" d="M 0.00,0.00 L 7.00,0.00 L 2.33,10.00"/><path transform="translate(29.06,0) scale(0.800,1)" d="M 0.35,2.60 Q 0.70,0.00 3.50,0.00 Q 6.77,0.00 6.77,2.60 Q 6.77,4.30 4.43,6.00 L 0.00,10.00 L 7.00,10.00"/></g>
<g transform="translate(364.2,1074.1) rotate(-90) translate(0,-11.69) scale(1.1685)" fill="none" stroke="#262626" stroke-width="1.345" stroke-linecap="round" stroke-linejoin="round"><path transform="translate(0.00,0) scale(0.800,1)" d="M0.6,2 L2.8,0 L2.8,10 M0.3,10 L4.6,10"/><path transform="translate(7.65,0) scale(0.800,1)" d="M0.6,2 L2.8,0 L2.8,10 M0.3,10 L4.6,10"/><path transform="translate(15.30,0) scale(0.800,1)" d="M0.4,9.5 L0.4,10"/><path transform="translate(19.91,0) scale(0.800,1)" d="M 0.35,2.00 Q 1.17,0.00 3.50,0.00 Q 6.53,0.00 6.53,2.40 Q 6.53,4.60 3.03,4.70 Q 7.00,4.80 7.00,7.40 Q 7.00,10.00 3.50,10.00 Q 0.93,10.00 0.00,8.20"/><path transform="translate(29.47,0) scale(0.800,1)" d="M 3.50,0.00 A 3.50,5 0 0 1 3.50,10 A 3.50,5 0 0 1 3.50,0 Z"/></g>
<rect x="197.2" y="921.5" width="68.8" height="10" rx="2" stroke="#333" stroke-width="1.2" fill="#fff"/>
<rect x="183.6" y="924.3" width="13.6" height="7.2" rx="1.5" stroke="#333" stroke-width="1.0" fill="#fff"/>
<rect x="266" y="924.3" width="13.5" height="7.2" rx="1.5" stroke="#333" stroke-width="1.0" fill="#fff"/>
<rect x="177.9" y="931.5" width="106.6" height="6" rx="3" stroke="#333" stroke-width="1.2" fill="#fff"/>
<line x1="180" y1="937.3" x2="282" y2="937.3" stroke="#222" stroke-width="2.2"/>
<path d="M184.3,937.5 L184.3,994 Q184.3,999.5 190,999.5 L273,999.5 Q278.8,999.5 278.8,994 L278.8,937.5" stroke="#333" stroke-width="1.3" fill="#fff"/>
<rect x="177.9" y="940" width="6" height="44.4" rx="3" stroke="#333" stroke-width="1.0" fill="#aaa"/>
<rect x="278.8" y="940" width="5.7" height="44.4" rx="3" stroke="#333" stroke-width="1.0" fill="#aaa"/>
<rect x="210" y="947.2" width="42.3" height="42.3" rx="2" stroke="#333" stroke-width="1.5" fill="#fff"/>
<circle cx="214.2" cy="951.4" r="2.3" stroke="#222" stroke-width="1.3" fill="#666"/>
<circle cx="248.1" cy="951.4" r="2.3" stroke="#222" stroke-width="1.3" fill="#666"/>
<circle cx="214.2" cy="985.3" r="2.3" stroke="#222" stroke-width="1.3" fill="#666"/>
<circle cx="248.1" cy="985.3" r="2.3" stroke="#222" stroke-width="1.3" fill="#666"/>
<circle cx="231.6" cy="968.7" r="18.2" stroke="#333" stroke-width="1.2" fill="#fff"/>
<circle cx="231.6" cy="968.7" r="16" stroke="#666" stroke-width="0.8" fill="none"/>
<circle cx="231.6" cy="968.7" r="13.6" stroke="#222" stroke-width="2.0" fill="#fff"/>
<line x1="200.8" y1="968.7" x2="260" y2="968.7" stroke="#2e2e2e" stroke-width="1.65"/>
<line x1="220.3" y1="895" x2="220.3" y2="1000" stroke="#2e2e2e" stroke-width="1.65"/>
<line x1="231.3" y1="895" x2="231.3" y2="1013" stroke="#2e2e2e" stroke-width="1.65"/>
<line x1="153" y1="926" x2="216" y2="959.5" stroke="#2e2e2e" stroke-width="1.65"/>
<path d="M217.5,960.3 L211.3,959.3 L213.1,955.7 Z" fill="#222"/>
<line x1="191.5" y1="1002.7" x2="273" y2="1002.7" stroke="#333" stroke-width="2.6"/>
<line x1="188" y1="1000.5" x2="275" y2="1000.5" stroke="#333" stroke-width="1.0"/>
<path d="M186.5,1006 L274.5,1006 L276.7,1030 M186.5,1006 L184.3,1030" stroke="#333" stroke-width="1.3" fill="none"/>
<path d="M189,1014 Q230,1004 272,1020" stroke="#333" stroke-width="1.1" fill="none"/>
<line x1="308.1" y1="1104.9" x2="323.3" y2="1102.4" stroke="#333" stroke-width="2.6"/>
<line x1="323.3" y1="1102.4" x2="327.1" y2="1101.8" stroke="#333" stroke-width="1.4"/>
<circle cx="327.9" cy="1101.7" r="1.5" stroke="#222" stroke-width="0" fill="#222"/>
<line x1="306.1" y1="1095.5" x2="320.9" y2="1091.4" stroke="#333" stroke-width="2.6"/>
<line x1="320.9" y1="1091.4" x2="324.6" y2="1090.4" stroke="#333" stroke-width="1.4"/>
<circle cx="325.3" cy="1090.2" r="1.5" stroke="#222" stroke-width="0" fill="#222"/>
<line x1="303.0" y1="1086.4" x2="317.3" y2="1080.7" stroke="#333" stroke-width="2.6"/>
<line x1="317.3" y1="1080.7" x2="320.8" y2="1079.3" stroke="#333" stroke-width="1.4"/>
<circle cx="321.6" cy="1079.0" r="1.5" stroke="#222" stroke-width="0" fill="#222"/>
<line x1="288.2" y1="1061.8" x2="299.9" y2="1051.8" stroke="#333" stroke-width="2.6"/>
<line x1="299.9" y1="1051.8" x2="302.8" y2="1049.4" stroke="#333" stroke-width="1.4"/>
<circle cx="303.4" cy="1048.9" r="1.5" stroke="#222" stroke-width="0" fill="#222"/>
<line x1="281.6" y1="1054.8" x2="292.2" y2="1043.7" stroke="#333" stroke-width="2.6"/>
<line x1="292.2" y1="1043.7" x2="294.8" y2="1040.9" stroke="#333" stroke-width="1.4"/>
<circle cx="295.3" cy="1040.3" r="1.5" stroke="#222" stroke-width="0" fill="#222"/>
<line x1="274.2" y1="1048.6" x2="283.6" y2="1036.4" stroke="#333" stroke-width="2.6"/>
<line x1="283.6" y1="1036.4" x2="285.9" y2="1033.3" stroke="#333" stroke-width="1.4"/>
<circle cx="286.3" cy="1032.7" r="1.5" stroke="#222" stroke-width="0" fill="#222"/>
<line x1="266.3" y1="1043.2" x2="274.2" y2="1030.0" stroke="#333" stroke-width="2.6"/>
<line x1="274.2" y1="1030.0" x2="276.2" y2="1026.8" stroke="#333" stroke-width="1.4"/>
<circle cx="276.6" cy="1026.1" r="1.5" stroke="#222" stroke-width="0" fill="#222"/>
<line x1="257.8" y1="1038.7" x2="264.3" y2="1024.7" stroke="#333" stroke-width="2.6"/>
<line x1="264.3" y1="1024.7" x2="265.9" y2="1021.3" stroke="#333" stroke-width="1.4"/>
<circle cx="266.2" cy="1020.6" r="1.5" stroke="#222" stroke-width="0" fill="#222"/>
<line x1="248.9" y1="1035.2" x2="253.8" y2="1020.6" stroke="#333" stroke-width="2.6"/>
<line x1="253.8" y1="1020.6" x2="255.0" y2="1017.0" stroke="#333" stroke-width="1.4"/>
<circle cx="255.2" cy="1016.2" r="1.5" stroke="#222" stroke-width="0" fill="#222"/>
<line x1="239.6" y1="1032.6" x2="242.9" y2="1017.5" stroke="#333" stroke-width="2.6"/>
<line x1="242.9" y1="1017.5" x2="243.7" y2="1013.8" stroke="#333" stroke-width="1.4"/>
<circle cx="243.9" cy="1013.0" r="1.5" stroke="#222" stroke-width="0" fill="#222"/>
<line x1="230.1" y1="1031.0" x2="231.8" y2="1015.7" stroke="#333" stroke-width="2.6"/>
<line x1="231.8" y1="1015.7" x2="232.2" y2="1011.9" stroke="#333" stroke-width="1.4"/>
<circle cx="232.3" cy="1011.1" r="1.5" stroke="#222" stroke-width="0" fill="#222"/>
<line x1="210.9" y1="1031.0" x2="209.2" y2="1015.7" stroke="#333" stroke-width="2.6"/>
<line x1="209.2" y1="1015.7" x2="208.8" y2="1011.9" stroke="#333" stroke-width="1.4"/>
<circle cx="208.7" cy="1011.1" r="1.5" stroke="#222" stroke-width="0" fill="#222"/>
<line x1="201.4" y1="1032.6" x2="198.1" y2="1017.5" stroke="#333" stroke-width="2.6"/>
<line x1="198.1" y1="1017.5" x2="197.3" y2="1013.8" stroke="#333" stroke-width="1.4"/>
<circle cx="197.1" cy="1013.0" r="1.5" stroke="#222" stroke-width="0" fill="#222"/>
<line x1="192.2" y1="1035.1" x2="187.2" y2="1020.6" stroke="#333" stroke-width="2.6"/>
<line x1="187.2" y1="1020.6" x2="186.0" y2="1017.0" stroke="#333" stroke-width="1.4"/>
<circle cx="185.8" cy="1016.2" r="1.5" stroke="#222" stroke-width="0" fill="#222"/>
<line x1="183.2" y1="1038.7" x2="176.8" y2="1024.7" stroke="#333" stroke-width="2.6"/>
<line x1="176.8" y1="1024.7" x2="175.2" y2="1021.3" stroke="#333" stroke-width="1.4"/>
<circle cx="174.8" cy="1020.6" r="1.5" stroke="#222" stroke-width="0" fill="#222"/>
<line x1="174.7" y1="1043.2" x2="166.8" y2="1030.0" stroke="#333" stroke-width="2.6"/>
<line x1="166.8" y1="1030.0" x2="164.8" y2="1026.8" stroke="#333" stroke-width="1.4"/>
<circle cx="164.4" cy="1026.1" r="1.5" stroke="#222" stroke-width="0" fill="#222"/>
<line x1="166.8" y1="1048.6" x2="157.4" y2="1036.3" stroke="#333" stroke-width="2.6"/>
<line x1="157.4" y1="1036.3" x2="155.1" y2="1033.3" stroke="#333" stroke-width="1.4"/>
<circle cx="154.7" cy="1032.7" r="1.5" stroke="#222" stroke-width="0" fill="#222"/>
<line x1="159.4" y1="1054.8" x2="148.8" y2="1043.6" stroke="#333" stroke-width="2.6"/>
<line x1="148.8" y1="1043.6" x2="146.2" y2="1040.9" stroke="#333" stroke-width="1.4"/>
<circle cx="145.7" cy="1040.3" r="1.5" stroke="#222" stroke-width="0" fill="#222"/>
<line x1="152.8" y1="1061.8" x2="141.1" y2="1051.8" stroke="#333" stroke-width="2.6"/>
<line x1="141.1" y1="1051.8" x2="138.2" y2="1049.4" stroke="#333" stroke-width="1.4"/>
<circle cx="137.6" cy="1048.9" r="1.5" stroke="#222" stroke-width="0" fill="#222"/>
<line x1="138.0" y1="1086.4" x2="123.7" y2="1080.7" stroke="#333" stroke-width="2.6"/>
<line x1="123.7" y1="1080.7" x2="120.2" y2="1079.3" stroke="#333" stroke-width="1.4"/>
<circle cx="119.4" cy="1079.0" r="1.5" stroke="#222" stroke-width="0" fill="#222"/>
<line x1="134.9" y1="1095.5" x2="120.1" y2="1091.4" stroke="#333" stroke-width="2.6"/>
<line x1="120.1" y1="1091.4" x2="116.4" y2="1090.4" stroke="#333" stroke-width="1.4"/>
<circle cx="115.7" cy="1090.2" r="1.5" stroke="#222" stroke-width="0" fill="#222"/>
<line x1="132.9" y1="1104.9" x2="117.7" y2="1102.4" stroke="#333" stroke-width="2.6"/>
<line x1="117.7" y1="1102.4" x2="113.9" y2="1101.8" stroke="#333" stroke-width="1.4"/>
<circle cx="113.1" cy="1101.7" r="1.5" stroke="#222" stroke-width="0" fill="#222"/>
<line x1="132.9" y1="1133.7" x2="117.7" y2="1136.2" stroke="#333" stroke-width="2.6"/>
<line x1="117.7" y1="1136.2" x2="113.9" y2="1136.8" stroke="#333" stroke-width="1.4"/>
<circle cx="113.1" cy="1136.9" r="1.5" stroke="#222" stroke-width="0" fill="#222"/>
<line x1="134.9" y1="1143.1" x2="120.1" y2="1147.2" stroke="#333" stroke-width="2.6"/>
<line x1="120.1" y1="1147.2" x2="116.4" y2="1148.2" stroke="#333" stroke-width="1.4"/>
<circle cx="115.7" cy="1148.4" r="1.5" stroke="#222" stroke-width="0" fill="#222"/>
<line x1="138.0" y1="1152.2" x2="123.7" y2="1157.9" stroke="#333" stroke-width="2.6"/>
<line x1="123.7" y1="1157.9" x2="120.2" y2="1159.3" stroke="#333" stroke-width="1.4"/>
<circle cx="119.4" cy="1159.6" r="1.5" stroke="#222" stroke-width="0" fill="#222"/>
<line x1="152.8" y1="1176.8" x2="141.1" y2="1186.8" stroke="#333" stroke-width="2.6"/>
<line x1="141.1" y1="1186.8" x2="138.2" y2="1189.2" stroke="#333" stroke-width="1.4"/>
<circle cx="137.6" cy="1189.7" r="1.5" stroke="#222" stroke-width="0" fill="#222"/>
<line x1="159.4" y1="1183.8" x2="148.8" y2="1194.9" stroke="#333" stroke-width="2.6"/>
<line x1="148.8" y1="1194.9" x2="146.2" y2="1197.7" stroke="#333" stroke-width="1.4"/>
<circle cx="145.7" cy="1198.3" r="1.5" stroke="#222" stroke-width="0" fill="#222"/>
<line x1="166.8" y1="1190.0" x2="157.4" y2="1202.2" stroke="#333" stroke-width="2.6"/>
<line x1="157.4" y1="1202.2" x2="155.1" y2="1205.3" stroke="#333" stroke-width="1.4"/>
<circle cx="154.7" cy="1205.9" r="1.5" stroke="#222" stroke-width="0" fill="#222"/>
<line x1="174.7" y1="1195.4" x2="166.8" y2="1208.6" stroke="#333" stroke-width="2.6"/>
<line x1="166.8" y1="1208.6" x2="164.8" y2="1211.8" stroke="#333" stroke-width="1.4"/>
<circle cx="164.4" cy="1212.5" r="1.5" stroke="#222" stroke-width="0" fill="#222"/>
<line x1="183.2" y1="1199.9" x2="176.7" y2="1213.9" stroke="#333" stroke-width="2.6"/>
<line x1="176.7" y1="1213.9" x2="175.1" y2="1217.3" stroke="#333" stroke-width="1.4"/>
<circle cx="174.8" cy="1218.0" r="1.5" stroke="#222" stroke-width="0" fill="#222"/>
<line x1="192.1" y1="1203.4" x2="187.2" y2="1218.0" stroke="#333" stroke-width="2.6"/>
<line x1="187.2" y1="1218.0" x2="186.0" y2="1221.6" stroke="#333" stroke-width="1.4"/>
<circle cx="185.8" cy="1222.4" r="1.5" stroke="#222" stroke-width="0" fill="#222"/>
<line x1="201.4" y1="1206.0" x2="198.1" y2="1221.1" stroke="#333" stroke-width="2.6"/>
<line x1="198.1" y1="1221.1" x2="197.3" y2="1224.8" stroke="#333" stroke-width="1.4"/>
<circle cx="197.1" cy="1225.6" r="1.5" stroke="#222" stroke-width="0" fill="#222"/>
<line x1="210.9" y1="1207.6" x2="209.2" y2="1222.9" stroke="#333" stroke-width="2.6"/>
<line x1="209.2" y1="1222.9" x2="208.8" y2="1226.7" stroke="#333" stroke-width="1.4"/>
<circle cx="208.7" cy="1227.5" r="1.5" stroke="#222" stroke-width="0" fill="#222"/>
<line x1="230.1" y1="1207.6" x2="231.8" y2="1222.9" stroke="#333" stroke-width="2.6"/>
<line x1="231.8" y1="1222.9" x2="232.2" y2="1226.7" stroke="#333" stroke-width="1.4"/>
<circle cx="232.3" cy="1227.5" r="1.5" stroke="#222" stroke-width="0" fill="#222"/>
<line x1="239.6" y1="1206.0" x2="242.9" y2="1221.1" stroke="#333" stroke-width="2.6"/>
<line x1="242.9" y1="1221.1" x2="243.7" y2="1224.8" stroke="#333" stroke-width="1.4"/>
<circle cx="243.9" cy="1225.6" r="1.5" stroke="#222" stroke-width="0" fill="#222"/>
<line x1="248.8" y1="1203.5" x2="253.8" y2="1218.0" stroke="#333" stroke-width="2.6"/>
<line x1="253.8" y1="1218.0" x2="255.0" y2="1221.6" stroke="#333" stroke-width="1.4"/>
<circle cx="255.2" cy="1222.4" r="1.5" stroke="#222" stroke-width="0" fill="#222"/>
<line x1="257.8" y1="1199.9" x2="264.2" y2="1213.9" stroke="#333" stroke-width="2.6"/>
<line x1="264.2" y1="1213.9" x2="265.8" y2="1217.3" stroke="#333" stroke-width="1.4"/>
<circle cx="266.2" cy="1218.0" r="1.5" stroke="#222" stroke-width="0" fill="#222"/>
<line x1="266.3" y1="1195.4" x2="274.2" y2="1208.6" stroke="#333" stroke-width="2.6"/>
<line x1="274.2" y1="1208.6" x2="276.2" y2="1211.8" stroke="#333" stroke-width="1.4"/>
<circle cx="276.6" cy="1212.5" r="1.5" stroke="#222" stroke-width="0" fill="#222"/>
<line x1="274.2" y1="1190.0" x2="283.6" y2="1202.3" stroke="#333" stroke-width="2.6"/>
<line x1="283.6" y1="1202.3" x2="285.9" y2="1205.3" stroke="#333" stroke-width="1.4"/>
<circle cx="286.3" cy="1205.9" r="1.5" stroke="#222" stroke-width="0" fill="#222"/>
<line x1="281.6" y1="1183.8" x2="292.2" y2="1195.0" stroke="#333" stroke-width="2.6"/>
<line x1="292.2" y1="1195.0" x2="294.8" y2="1197.7" stroke="#333" stroke-width="1.4"/>
<circle cx="295.3" cy="1198.3" r="1.5" stroke="#222" stroke-width="0" fill="#222"/>
<line x1="288.2" y1="1176.8" x2="299.9" y2="1186.8" stroke="#333" stroke-width="2.6"/>
<line x1="299.9" y1="1186.8" x2="302.8" y2="1189.2" stroke="#333" stroke-width="1.4"/>
<circle cx="303.4" cy="1189.7" r="1.5" stroke="#222" stroke-width="0" fill="#222"/>
<line x1="303.0" y1="1152.2" x2="317.3" y2="1157.9" stroke="#333" stroke-width="2.6"/>
<line x1="317.3" y1="1157.9" x2="320.8" y2="1159.3" stroke="#333" stroke-width="1.4"/>
<circle cx="321.6" cy="1159.6" r="1.5" stroke="#222" stroke-width="0" fill="#222"/>
<line x1="306.1" y1="1143.1" x2="320.9" y2="1147.2" stroke="#333" stroke-width="2.6"/>
<line x1="320.9" y1="1147.2" x2="324.6" y2="1148.2" stroke="#333" stroke-width="1.4"/>
<circle cx="325.3" cy="1148.4" r="1.5" stroke="#222" stroke-width="0" fill="#222"/>
<line x1="308.1" y1="1133.7" x2="323.3" y2="1136.2" stroke="#333" stroke-width="2.6"/>
<line x1="323.3" y1="1136.2" x2="327.1" y2="1136.8" stroke="#333" stroke-width="1.4"/>
<circle cx="327.9" cy="1136.9" r="1.5" stroke="#222" stroke-width="0" fill="#222"/>
<circle cx="220.5" cy="1119.3" r="83.3" stroke="#333" stroke-width="1.3" fill="none"/>
<circle cx="220.5" cy="1119.3" r="88.8" stroke="#222" stroke-width="2.0" fill="none"/>
<path d="M323.9,1106.6 A104.2,104.2 0 0 0 233.2,1015.9" stroke="#222" stroke-width="2.2" fill="none"/>
<path d="M207.8,1015.9 A104.2,104.2 0 0 0 117.1,1106.6" stroke="#222" stroke-width="2.2" fill="none"/>
<path d="M117.1,1132.0 A104.2,104.2 0 0 0 207.8,1222.7" stroke="#222" stroke-width="2.2" fill="none"/>
<path d="M233.2,1222.7 A104.2,104.2 0 0 0 323.9,1132.0" stroke="#222" stroke-width="2.2" fill="none"/>
<path d="M321.8,1095.0 L327.5,1091.6 A110.5,110.5 0 0 0 308.7,1052.8 L302.6,1055.1" stroke="#222" stroke-width="2.0" fill="none"/>
<line x1="319.6" y1="1087.1" x2="325.6" y2="1085.2" stroke="#333" stroke-width="1.6"/>
<line x1="316.4" y1="1078.6" x2="322.2" y2="1076.1" stroke="#333" stroke-width="1.6"/>
<line x1="306.9" y1="1061.0" x2="312.1" y2="1057.5" stroke="#333" stroke-width="1.6"/>
<path d="M301.4,1082.4 L314.4,1072.9 L307.6,1061.2 L292.9,1067.7 Z" stroke="#333" stroke-width="1.2" fill="#fff"/>
<circle cx="303.8" cy="1071.2" r="4.6" stroke="#333" stroke-width="1.5" fill="#fff"/>
<path d="M148.1,1067.7 L133.4,1061.2 L126.6,1072.9 L139.6,1082.4 Z" stroke="#333" stroke-width="1.2" fill="#fff"/>
<circle cx="137.2" cy="1071.2" r="4.6" stroke="#333" stroke-width="1.5" fill="#fff"/>
<path d="M139.6,1156.2 L126.6,1165.7 L133.4,1177.4 L148.1,1170.9 Z" stroke="#333" stroke-width="1.2" fill="#fff"/>
<circle cx="137.2" cy="1167.4" r="4.6" stroke="#333" stroke-width="1.5" fill="#fff"/>
<path d="M292.9,1170.9 L307.6,1177.4 L314.4,1165.7 L301.4,1156.2 Z" stroke="#333" stroke-width="1.2" fill="#fff"/>
<circle cx="303.8" cy="1167.4" r="4.6" stroke="#333" stroke-width="1.5" fill="#fff"/>
<path d="M229.0,1030.8 L227.3,1014.8 L213.7,1014.8 L212.0,1030.8 Z" stroke="#333" stroke-width="1.2" fill="#fff"/>
<circle cx="220.5" cy="1023.1" r="4.6" stroke="#333" stroke-width="1.5" fill="#fff"/>
<path d="M212.0,1207.8 L213.7,1223.8 L227.3,1223.8 L229.0,1207.8 Z" stroke="#333" stroke-width="1.2" fill="#fff"/>
<circle cx="220.5" cy="1215.5" r="4.6" stroke="#333" stroke-width="1.5" fill="#fff"/>
<path d="M105.8,1103.5 L86.5,1103.5 Q83.5,1103.5 83.5,1107 L83.5,1132.8 Q83.5,1136.3 86.5,1136.3 L105.8,1136.3 Z" stroke="#333" stroke-width="1.5" fill="#fff"/>
<ellipse cx="91.6" cy="1119.6" rx="3.9" ry="8.3" fill="none" stroke="#333" stroke-width="1.4"/>
<ellipse cx="91.6" cy="1119.6" rx="2.2" ry="5.8" fill="none" stroke="#555" stroke-width="1"/>
<rect x="98.9" y="1113" width="4.6" height="13.2" rx="1.5" stroke="#333" stroke-width="1.3" fill="#fff"/>
<rect x="105.8" y="1106" width="3.1" height="28.7" rx="0" stroke="#555" stroke-width="0.8" fill="#aaa"/>
<rect x="108.9" y="1100" width="21.599999999999994" height="40" rx="0" stroke="#222" stroke-width="1.8" fill="#fff"/>
<path d="M110,1108.0 L129,1104 L129,1112 Z" stroke="#555" stroke-width="0.8" fill="#999"/>
<path d="M110,1115.8 L129,1113.5 L129,1118 Z" stroke="#555" stroke-width="0.8" fill="#999"/>
<path d="M110,1123.2 L129,1121 L129,1125.5 Z" stroke="#555" stroke-width="0.8" fill="#999"/>
<path d="M110,1131.0 L129,1127 L129,1135 Z" stroke="#555" stroke-width="0.8" fill="#999"/>
<path d="M335.2,1103.5 L354.5,1103.5 Q357.5,1103.5 357.5,1107 L357.5,1132.8 Q357.5,1136.3 354.5,1136.3 L335.2,1136.3 Z" stroke="#333" stroke-width="1.5" fill="#fff"/>
<ellipse cx="349.4" cy="1119.6" rx="3.9" ry="8.3" fill="none" stroke="#333" stroke-width="1.4"/>
<ellipse cx="349.4" cy="1119.6" rx="2.2" ry="5.8" fill="none" stroke="#555" stroke-width="1"/>
<rect x="337.5" y="1113" width="4.6" height="13.2" rx="1.5" stroke="#333" stroke-width="1.3" fill="#fff"/>
<rect x="332.1" y="1106" width="3.1" height="28.7" rx="0" stroke="#555" stroke-width="0.8" fill="#aaa"/>
<rect x="310.5" y="1100" width="21.600000000000023" height="40" rx="0" stroke="#222" stroke-width="1.8" fill="#fff"/>
<path d="M331.0,1108.0 L312.0,1104 L312.0,1112 Z" stroke="#555" stroke-width="0.8" fill="#999"/>
<path d="M331.0,1115.8 L312.0,1113.5 L312.0,1118 Z" stroke="#555" stroke-width="0.8" fill="#999"/>
<path d="M331.0,1123.2 L312.0,1121 L312.0,1125.5 Z" stroke="#555" stroke-width="0.8" fill="#999"/>
<path d="M331.0,1131.0 L312.0,1127 L312.0,1135 Z" stroke="#555" stroke-width="0.8" fill="#999"/>
<rect x="312.5" y="1115.5" width="5.5" height="8.5" rx="0" stroke="#333" stroke-width="0" fill="#222"/>
<path d="M283.2,1111.6 A63.2,63.2 0 1 0 283.2,1127.0" stroke="#333" stroke-width="1.3" fill="none"/>
<path d="M190.3,1080.7 A49,49 0 0 0 190.3,1157.9" stroke="#333" stroke-width="1.3" fill="none"/>
<path d="M202.1,1164.7 A49,49 0 1 0 202.1,1073.9" stroke="#333" stroke-width="1.3" fill="none"/>
<line x1="202.1" y1="1073.9" x2="196.8" y2="1060.7" stroke="#333" stroke-width="1.2"/>
<line x1="190.3" y1="1080.7" x2="181.6" y2="1069.5" stroke="#333" stroke-width="1.2"/>
<line x1="190.3" y1="1157.9" x2="181.6" y2="1169.1" stroke="#333" stroke-width="1.2"/>
<line x1="202.1" y1="1164.7" x2="196.8" y2="1177.9" stroke="#333" stroke-width="1.2"/>
<line x1="269.1" y1="1113.3" x2="283.2" y2="1111.6" stroke="#333" stroke-width="1.2"/>
<line x1="269.1" y1="1125.3" x2="283.2" y2="1127.0" stroke="#333" stroke-width="1.2"/>
<circle cx="220.5" cy="1119.3" r="33" stroke="#333" stroke-width="1.2" fill="none"/>
<circle cx="220.5" cy="1119.3" r="27.2" stroke="#333" stroke-width="1.2" fill="none"/>
<circle cx="220.5" cy="1119.3" r="20.8" stroke="#222" stroke-width="2.4" fill="none"/>
<circle cx="220.5" cy="1119.3" r="17" stroke="#444" stroke-width="1.0" fill="none"/>
<circle cx="220.5" cy="1119.3" r="14" stroke="#444" stroke-width="1.0" fill="none"/>
<circle cx="220.5" cy="1119.3" r="10.5" stroke="#333" stroke-width="1.4" fill="none"/>
<circle cx="240.1" cy="1085.8" r="3.4" stroke="#333" stroke-width="1.3" fill="#fff"/>
<circle cx="240.1" cy="1154.5" r="3.4" stroke="#333" stroke-width="1.3" fill="#fff"/>
<circle cx="180.7" cy="1119.4" r="3.4" stroke="#333" stroke-width="1.3" fill="#fff"/>
<circle cx="232.5" cy="1119.6" r="3.6" stroke="#333" stroke-width="1.4" fill="#fff"/>
<circle cx="255.6" cy="1132.2" r="3" stroke="#333" stroke-width="1.2" fill="none"/>
<line x1="262" y1="1140" x2="266" y2="1133" stroke="#444" stroke-width="1.0"/>
<line x1="266" y1="1143" x2="270" y2="1136" stroke="#444" stroke-width="1.0"/>
<rect x="165.4" y="1064.8" width="6.4" height="6.4" rx="0" stroke="#333" stroke-width="0" fill="#333"/>
<line x1="161.6" y1="1075" x2="175.6" y2="1061" stroke="#333" stroke-width="1.0"/>
<rect x="269.8" y="1064.8" width="6.4" height="6.4" rx="0" stroke="#333" stroke-width="0" fill="#333"/>
<line x1="266" y1="1075" x2="280" y2="1061" stroke="#333" stroke-width="1.0"/>
<rect x="165.4" y="1169.2" width="6.4" height="6.4" rx="0" stroke="#333" stroke-width="0" fill="#333"/>
<line x1="161.6" y1="1179.4" x2="175.6" y2="1165.4" stroke="#333" stroke-width="1.0"/>
<rect x="269.8" y="1169.2" width="6.4" height="6.4" rx="0" stroke="#333" stroke-width="0" fill="#333"/>
<line x1="266" y1="1179.4" x2="280" y2="1165.4" stroke="#333" stroke-width="1.0"/>
<line x1="73.3" y1="1119.3" x2="410" y2="1119.3" stroke="#2e2e2e" stroke-width="1.65"/>
<line x1="220.5" y1="1000" x2="220.5" y2="1237.8" stroke="#2e2e2e" stroke-width="1.65"/>
<line x1="156" y1="1084" x2="284" y2="1157.4" stroke="#2e2e2e" stroke-width="1.1"/>
<line x1="273" y1="1172.4" x2="286.4" y2="1252" stroke="#2e2e2e" stroke-width="1.1"/>
<line x1="286.4" y1="1252" x2="400" y2="1252" stroke="#2e2e2e" stroke-width="1.1"/>
<g transform="translate(292.4,1237.7) scale(1.0972)" fill="none" stroke="#262626" stroke-width="1.345" stroke-linecap="round" stroke-linejoin="round"><path transform="translate(0.00,0) scale(1.111,1)" d="M 5.03,10.00 L 5.03,0.00 L 0.00,7.00 L 7.00,7.00"/><path transform="translate(12.28,0) scale(1.111,1)" d="M0,5.4 L4.6,5.4"/><path transform="translate(21.89,0) scale(1.111,1)" d="M 6.53,0.00 L 1.05,0.00 L 0.58,4.40 Q 1.87,3.60 3.50,3.60 Q 7.00,3.60 7.00,6.80 Q 7.00,10.00 3.50,10.00 Q 1.17,10.00 0.12,8.50"/><path transform="translate(34.17,0) scale(1.111,1)" d="M0,10.4 L5,-0.4"/><path transform="translate(44.22,0) scale(1.111,1)" d="M 3.50,4.60 Q 0.47,4.60 0.47,2.30 Q 0.47,0.00 3.50,0.00 Q 6.53,0.00 6.53,2.30 Q 6.53,4.60 3.50,4.60 Q 0.00,4.60 0.00,7.30 Q 0.00,10.00 3.50,10.00 Q 7.00,10.00 7.00,7.30 Q 7.00,4.60 3.50,4.60 Z"/><path transform="translate(56.50,0) scale(1.111,1)" d="M1.6,0 L0.4,3"/><path transform="translate(62.78,0) scale(1.111,1)" d="M0,5.4 L4.6,5.4"/><path transform="translate(72.39,0) scale(1.111,1)" d="M0.6,2 L2.8,0 L2.8,10 M0.3,10 L4.6,10"/><path transform="translate(82.00,0) scale(1.111,1)" d="M0.6,2 L2.8,0 L2.8,10 M0.3,10 L4.6,10"/></g>
<g transform="translate(303.7,1256.2) scale(1.1774)" fill="none" stroke="#262626" stroke-width="1.345" stroke-linecap="round" stroke-linejoin="round"><path transform="translate(0.00,0)" d="M0,0 L0,7 Q0,10 3.5,10 Q7,10 7,7 L7,0"/><path transform="translate(11.25,0)" d="M0,10 L0,0 L7.2,10 L7.2,0"/><path transform="translate(22.70,0)" d="M6.9,2 Q5.8,0 3.7,0 Q0,0 0,5 Q0,10 3.7,10 Q5.8,10 6.9,8"/><path transform="translate(42.19,0)" d="M0,0 L7,0 M3.5,0 L3.5,10"/><path transform="translate(53.44,0)" d="M0,10 L3.8,0 L7.6,10 M1.4,6.4 L6.2,6.4"/><path transform="translate(65.29,0)" d="M0,10 L0,0 L3.7,0 Q6.2,0 6.2,2.5 Q6.2,5 3.7,5 L0,5"/></g>
<g transform="translate(518.2,890.2) scale(1.0169)" fill="none" stroke="#262626" stroke-width="1.345" stroke-linecap="round" stroke-linejoin="round"><path transform="translate(0.00,0) scale(1.135,1)" d="M0,10 L0,0 L7.2,10 L7.2,0"/><path transform="translate(12.68,0) scale(1.135,1)" d="M3.3,3.4 A3.3,3.3 0 1 1 3.3,10 A3.3,3.3 0 1 1 3.3,3.4 Z"/><path transform="translate(24.67,0) scale(1.135,1)" d="M1.2,0.6 L1.2,8.6 Q1.2,10 2.6,10 L3.6,10 M0,3.4 L3.8,3.4"/><path transform="translate(33.48,0) scale(1.135,1)" d="M0,6.699999999999999 L6.6,6.699999999999999 A3.3,3.3 0 1 0 5.84,8.81"/><path transform="translate(45.48,0) scale(1.135,1)" d="M0.4,4.3 L0.4,4.8 M0.4,9.5 L0.4,10"/></g>
<g transform="translate(543.7,908.4) scale(1.1864)" fill="none" stroke="#262626" stroke-width="1.345" stroke-linecap="round" stroke-linejoin="round"><path transform="translate(0.00,0)" d="M0.6,2 L2.8,0 L2.8,10 M0.3,10 L4.6,10"/><path transform="translate(9.09,0)" d="M0.4,9.5 L0.4,10"/><path transform="translate(22.87,0)" d="M6.9,2 Q5.8,0 3.7,0 Q0,0 0,5 Q0,10 3.7,10 Q5.8,10 6.9,8"/><path transform="translate(34.37,0)" d="M0,10.4 L5,-0.4"/><path transform="translate(43.86,0)" d="M0,0 L2.9,10 L5.75,1.5 L8.6,10 L11.5,0"/><path transform="translate(68.34,0)" d="M0,0 L3.2,0 M1.6,0 L1.6,10 M0,10 L3.2,10"/><path transform="translate(76.03,0)" d="M0,3.4 L0,10 M0,5.6 Q1,3.4 3.2,3.4 Q6,3.4 6,6.199999999999999 L6,10"/><path transform="translate(86.52,0)" d="M0,3.4 L0,13.4 M3.3,3.4 A3.3,3.3 0 1 1 3.3,10 A3.3,3.3 0 1 1 3.3,3.4 Z"/><path transform="translate(97.62,0)" d="M0,3.4 L0,10 M0,6.199999999999999 Q0.8,3.4 4.4,3.4"/><path transform="translate(106.51,0)" d="M3.3,3.4 A3.3,3.3 0 1 1 3.3,10 A3.3,3.3 0 1 1 3.3,3.4 Z"/><path transform="translate(117.60,0)" d="M0,10.4 L5,-0.4"/><path transform="translate(127.09,0)" d="M6.2,1.6 Q5.3,0 3.2,0 Q0.2,0 0.2,2.5 Q0.2,4.3 3.2,5 Q6.4,5.7 6.4,7.6 Q6.4,10 3.2,10 Q1,10 0,8.4"/><path transform="translate(137.98,0)" d="M0,6.699999999999999 L6.6,6.699999999999999 A3.3,3.3 0 1 0 5.84,8.81"/><path transform="translate(149.07,0)" d="M3.3,3.4 A3.3,3.3 0 1 1 3.3,10 A3.3,3.3 0 1 1 3.3,3.4 Z M6.699999999999999,3.4 L6.699999999999999,10"/><path transform="translate(160.27,0)" d="M0.4,0 L0.4,8.3 Q0.4,10 2.6,10"/><path transform="translate(175.85,0)" d="M0,0 L3.2,0 M1.6,0 L1.6,10 M0,10 L3.2,10"/><path transform="translate(183.54,0)" d="M0,3.4 L0,10 M0,5.6 Q1,3.4 3.2,3.4 Q6,3.4 6,6.199999999999999 L6,10"/></g>
<g transform="translate(568.5,926.7) scale(1.1596)" fill="none" stroke="#262626" stroke-width="1.345" stroke-linecap="round" stroke-linejoin="round"><path transform="translate(0.00,0) scale(1.127,1)" d="M0,10 L0,0 L4,0 Q6.2,0 6.2,2.35 Q6.2,4.7 4,4.7 L0,4.7 M4,4.7 Q6.6,4.7 6.6,7.35 Q6.6,10 4,10 L0,10"/><path transform="translate(11.94,0) scale(1.127,1)" d="M3.3,3.4 A3.3,3.3 0 1 1 3.3,10 A3.3,3.3 0 1 1 3.3,3.4 Z"/><path transform="translate(23.87,0) scale(1.127,1)" d="M1.2,0.6 L1.2,8.6 Q1.2,10 2.6,10 L3.6,10 M0,3.4 L3.8,3.4"/><path transform="translate(32.66,0) scale(1.127,1)" d="M0,0 L0,10 M0,5.6 Q1,3.4 3.2,3.4 Q6,3.4 6,6.199999999999999 L6,10"/><path transform="translate(52.92,0) scale(1.127,1)" d="M6,0 L0,0 L0,10 L6,10 M0,4.8 L4.4,4.8"/><path transform="translate(64.18,0) scale(1.127,1)" d="M0,3.4 L0,10 M0,5.6 Q1,3.4 3.2,3.4 Q6,3.4 6,6.199999999999999 L6,10"/><path transform="translate(75.44,0) scale(1.127,1)" d="M3.3,3.4 A3.3,3.3 0 1 1 3.3,10 A3.3,3.3 0 1 1 3.3,3.4 Z M6.699999999999999,0 L6.699999999999999,10"/><path transform="translate(96.50,0) scale(1.127,1)" d="M0,10 L0,0 L4,0 Q6.2,0 6.2,2.35 Q6.2,4.7 4,4.7 L0,4.7 M4,4.7 Q6.6,4.7 6.6,7.35 Q6.6,10 4,10 L0,10"/><path transform="translate(108.44,0) scale(1.127,1)" d="M0,3.4 L0,10 M0,6.199999999999999 Q0.8,3.4 4.4,3.4"/><path transform="translate(117.89,0) scale(1.127,1)" d="M3.3,3.4 A3.3,3.3 0 1 1 3.3,10 A3.3,3.3 0 1 1 3.3,3.4 Z M6.699999999999999,3.4 L6.699999999999999,10"/><path transform="translate(129.94,0) scale(1.127,1)" d="M6.3,4.7 A3.3,3.3 0 1 0 6.3,8.7"/><path transform="translate(141.54,0) scale(1.127,1)" d="M0,0 L0,10 M5.6,3.4 L0,8.2 M2.2,6.4 L6,10"/><path transform="translate(152.80,0) scale(1.127,1)" d="M0,6.699999999999999 L6.6,6.699999999999999 A3.3,3.3 0 1 0 5.84,8.81"/><path transform="translate(164.74,0) scale(1.127,1)" d="M1.2,0.6 L1.2,8.6 Q1.2,10 2.6,10 L3.6,10 M0,3.4 L3.8,3.4"/><path transform="translate(173.52,0) scale(1.127,1)" d="M5.4,4.5 Q4.7,3.4 2.8,3.4 Q0.2,3.4 0.2,5.2 Q0.2,6.499999999999999 2.8,6.699999999999999 Q5.6,6.999999999999999 5.6,8.399999999999999 Q5.6,10 2.8,10 Q0.8,10 0,8.9"/><path transform="translate(184.33,0) scale(1.127,1)" d="M0.4,9.5 L0.4,10"/></g>
<g transform="translate(543.8,944.8) scale(1.3380)" fill="none" stroke="#262626" stroke-width="1.345" stroke-linecap="round" stroke-linejoin="round"><path transform="translate(0.00,0)" d="M 0.35,2.60 Q 0.70,0.00 3.50,0.00 Q 6.77,0.00 6.77,2.60 Q 6.77,4.30 4.43,6.00 L 0.00,10.00 L 7.00,10.00"/><path transform="translate(10.39,0)" d="M0.4,9.5 L0.4,10"/><path transform="translate(21.96,0)" d="M0,10 L0,0 L4.2,7 L8.4,0 L8.4,10"/><path transform="translate(33.74,0)" d="M3.3,3.4 A3.3,3.3 0 1 1 3.3,10 A3.3,3.3 0 1 1 3.3,3.4 Z"/><path transform="translate(43.73,0)" d="M1.2,0.6 L1.2,8.6 Q1.2,10 2.6,10 L3.6,10 M0,3.4 L3.8,3.4"/><path transform="translate(50.91,0)" d="M3.3,3.4 A3.3,3.3 0 1 1 3.3,10 A3.3,3.3 0 1 1 3.3,3.4 Z"/><path transform="translate(60.90,0)" d="M0,3.4 L0,10 M0,6.199999999999999 Q0.8,3.4 4.4,3.4"/><path transform="translate(76.07,0)" d="M0,0 L3.8,10 L7.6,0"/><path transform="translate(87.05,0)" d="M0.4,3.4 L0.4,10 M0.4,0.7 L0.4,1.1"/><path transform="translate(91.24,0)" d="M0,0 L0,10 M3.3,3.4 A3.3,3.3 0 1 1 3.3,10 A3.3,3.3 0 1 1 3.3,3.4 Z"/><path transform="translate(101.22,0)" d="M0,3.4 L0,10 M0,6.199999999999999 Q0.8,3.4 4.4,3.4"/><path transform="translate(109.01,0)" d="M3.3,3.4 A3.3,3.3 0 1 1 3.3,10 A3.3,3.3 0 1 1 3.3,3.4 Z M6.699999999999999,3.4 L6.699999999999999,10"/><path transform="translate(119.09,0)" d="M1.2,0.6 L1.2,8.6 Q1.2,10 2.6,10 L3.6,10 M0,3.4 L3.8,3.4"/><path transform="translate(126.28,0)" d="M0.4,3.4 L0.4,10 M0.4,0.7 L0.4,1.1"/><path transform="translate(130.46,0)" d="M3.3,3.4 A3.3,3.3 0 1 1 3.3,10 A3.3,3.3 0 1 1 3.3,3.4 Z"/><path transform="translate(140.45,0)" d="M0,3.4 L0,10 M0,5.6 Q1,3.4 3.2,3.4 Q6,3.4 6,6.199999999999999 L6,10"/><path transform="translate(149.83,0)" d="M0.4,4.3 L0.4,4.8 M0.4,9.5 L0.4,10"/><path transform="translate(154.02,0)" d="M0.6,2 L2.8,0 L2.8,10 M0.3,10 L4.6,10"/><path transform="translate(162.00,0)" d="M 6.53,0.00 L 1.05,0.00 L 0.58,4.40 Q 1.87,3.60 3.50,3.60 Q 7.00,3.60 7.00,6.80 Q 7.00,10.00 3.50,10.00 Q 1.17,10.00 0.12,8.50"/><path transform="translate(172.39,0)" d="M0,2.4 Q0,0 2.7,0 Q5.4,0 5.4,2.4 Q5.4,4 2.7,5.6 L2.7,7.3 M2.7,9.5 L2.7,10"/></g>
</svg>
</body></html>
